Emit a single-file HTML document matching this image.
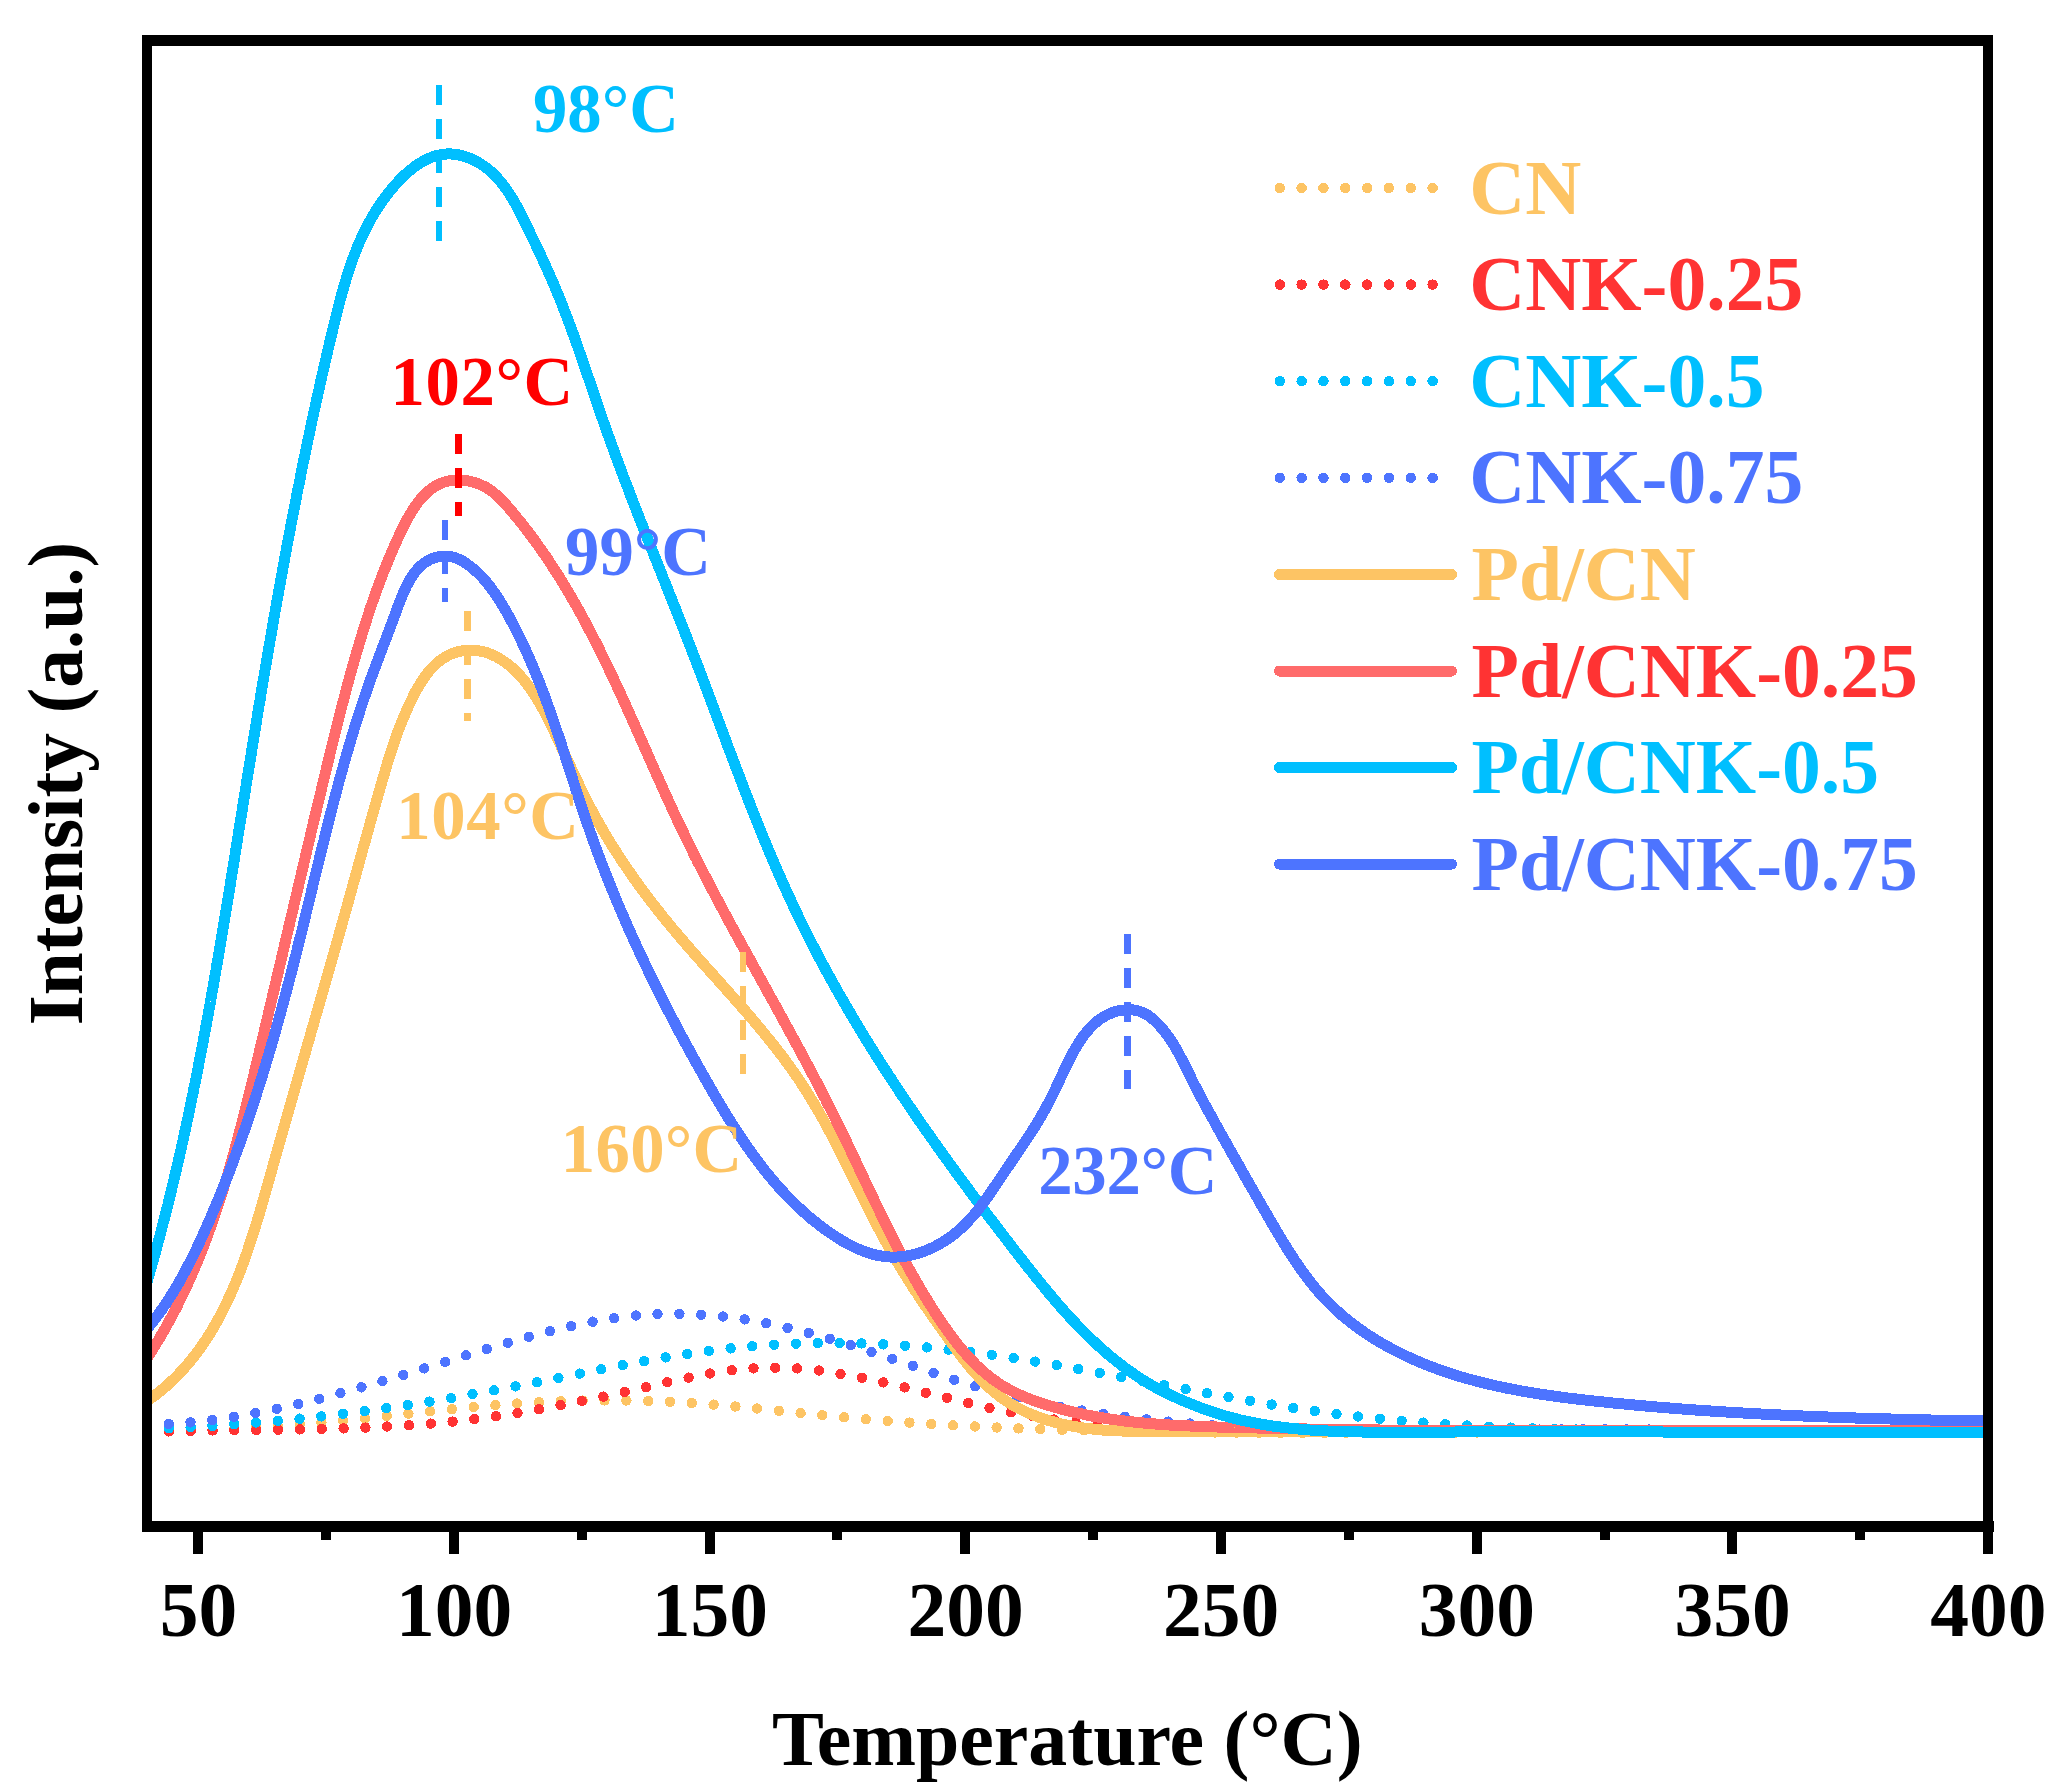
<!DOCTYPE html>
<html><head><meta charset="utf-8"><title>TPD</title>
<style>html,body{margin:0;padding:0;background:#fff}svg{display:block}</style></head>
<body>
<svg width="2063" height="1792" viewBox="0 0 2063 1792" font-family="Liberation Serif, Times New Roman, serif" font-weight="bold">
<rect width="2063" height="1792" fill="#fff"/>
<defs><clipPath id="cp"><rect x="152" y="46" width="1831" height="1475"/></clipPath></defs>
<g clip-path="url(#cp)" fill="none" shape-rendering="crispEdges">
<path d="M147.0 1430.9L149.5 1430.9L152.0 1430.9L154.5 1431.0L157.0 1431.0L159.5 1431.0L162.0 1431.0L164.6 1431.0L167.1 1431.0L169.6 1430.9L172.1 1430.9L174.6 1430.9L177.1 1430.9L179.6 1430.8L182.1 1430.8L184.6 1430.7L187.1 1430.7L189.6 1430.6L192.1 1430.6L194.6 1430.5L197.1 1430.5L199.6 1430.4L202.1 1430.3L204.6 1430.2L207.1 1430.1L209.6 1430.0L212.1 1430.0L214.6 1429.9L217.1 1429.8L219.6 1429.6L222.1 1429.5L224.6 1429.4L227.1 1429.3L229.6 1429.2L232.1 1429.1L234.6 1428.9L237.1 1428.8L239.6 1428.7L242.1 1428.5L244.6 1428.4L247.1 1428.2L249.6 1428.1L252.1 1427.9L254.6 1427.8L257.1 1427.6L259.6 1427.4L262.1 1427.3L264.6 1427.1L267.1 1426.9L269.6 1426.7L272.1 1426.6L274.6 1426.4L277.1 1426.2L279.6 1426.0L282.1 1425.8L284.6 1425.6L287.1 1425.4L289.6 1425.2L292.1 1425.0L294.6 1424.8L297.1 1424.6L299.6 1424.4L302.1 1424.2L304.6 1424.0L307.1 1423.8L309.6 1423.5L312.1 1423.3L314.6 1423.1L317.0 1422.9L319.5 1422.6L322.0 1422.4L324.5 1422.2L327.0 1421.9L329.5 1421.7L332.0 1421.5L334.5 1421.2L337.0 1421.0L339.5 1420.7L342.0 1420.5L344.5 1420.3L347.0 1420.0L349.5 1419.8L352.0 1419.5L354.5 1419.3L357.0 1419.0L359.5 1418.8L362.0 1418.5L364.5 1418.3L366.9 1418.0L369.4 1417.7L371.9 1417.5L374.4 1417.2L376.9 1417.0L379.4 1416.7L381.9 1416.4L384.4 1416.2L386.9 1415.9L389.4 1415.7L391.9 1415.4L394.4 1415.1L396.9 1414.9L399.4 1414.6L401.9 1414.3L404.4 1414.1L406.9 1413.8L409.4 1413.5L411.9 1413.3L414.3 1413.0L416.8 1412.8L419.3 1412.5L421.8 1412.2L424.3 1412.0L426.8 1411.7L429.3 1411.4L431.8 1411.2L434.3 1410.9L436.8 1410.7L439.3 1410.4L441.8 1410.2L444.3 1409.9L446.8 1409.7L449.3 1409.4L451.8 1409.2L454.3 1408.9L456.8 1408.7L459.3 1408.4L461.8 1408.2L464.3 1408.0L466.8 1407.7L469.2 1407.5L471.7 1407.3L474.2 1407.0L476.7 1406.8L479.2 1406.6L481.7 1406.3L484.2 1406.1L486.7 1405.9L489.2 1405.7L491.7 1405.5L494.2 1405.3L496.7 1405.1L499.2 1404.9L501.7 1404.7L504.2 1404.5L506.7 1404.3L509.2 1404.1L511.7 1403.9L514.2 1403.8L516.7 1403.6L519.2 1403.4L521.7 1403.2L524.2 1403.1L526.7 1402.9L529.2 1402.8L531.7 1402.6L534.2 1402.5L536.7 1402.3L539.2 1402.2L541.7 1402.1L544.2 1402.0L546.7 1401.8L549.2 1401.7L551.7 1401.6L554.2 1401.5L556.7 1401.4L559.2 1401.3L561.7 1401.2L564.2 1401.1L566.7 1401.0L569.2 1401.0L571.7 1400.9L574.2 1400.8L576.7 1400.8L579.2 1400.7L581.7 1400.6L584.2 1400.6L586.7 1400.5L589.1 1400.5L591.6 1400.5L594.1 1400.4L596.6 1400.4L599.1 1400.4L601.6 1400.4L604.1 1400.4L606.6 1400.4L609.1 1400.4L611.6 1400.4L614.1 1400.4L616.6 1400.4L619.1 1400.4L621.6 1400.4L624.1 1400.5L626.6 1400.5L629.1 1400.5L631.6 1400.6L634.1 1400.6L636.6 1400.7L639.1 1400.7L641.6 1400.8L644.1 1400.9L646.6 1400.9L649.1 1401.0L651.6 1401.1L654.1 1401.2L656.6 1401.3L659.1 1401.4L661.6 1401.5L664.1 1401.6L666.6 1401.7L669.1 1401.8L671.6 1401.9L674.1 1402.0L676.6 1402.2L679.1 1402.3L681.6 1402.4L684.1 1402.6L686.6 1402.7L689.1 1402.9L691.6 1403.0L694.1 1403.2L696.6 1403.4L699.1 1403.6L701.6 1403.7L704.1 1403.9L706.6 1404.1L709.1 1404.3L711.6 1404.5L714.1 1404.7L716.6 1404.9L719.1 1405.1L721.5 1405.3L724.0 1405.5L726.5 1405.7L729.0 1405.9L731.5 1406.2L734.0 1406.4L736.5 1406.6L739.0 1406.9L741.5 1407.1L744.0 1407.3L746.5 1407.6L749.0 1407.8L751.5 1408.0L754.0 1408.3L756.5 1408.5L759.0 1408.8L761.5 1409.0L764.0 1409.3L766.5 1409.5L769.0 1409.8L771.5 1410.0L773.9 1410.3L776.4 1410.5L778.9 1410.8L781.4 1411.1L783.9 1411.3L786.4 1411.6L788.9 1411.8L791.4 1412.1L793.9 1412.3L796.4 1412.6L798.9 1412.9L801.4 1413.1L803.9 1413.4L806.4 1413.6L808.9 1413.9L811.4 1414.1L813.9 1414.4L816.4 1414.6L818.9 1414.9L821.3 1415.1L823.8 1415.4L826.3 1415.6L828.8 1415.9L831.3 1416.1L833.8 1416.4L836.3 1416.6L838.8 1416.8L841.3 1417.1L843.8 1417.3L846.3 1417.5L848.8 1417.8L851.3 1418.0L853.8 1418.2L856.3 1418.4L858.8 1418.7L861.3 1418.9L863.8 1419.1L866.3 1419.3L868.8 1419.5L871.3 1419.7L873.8 1419.9L876.3 1420.1L878.8 1420.3L881.3 1420.5L883.8 1420.7L886.3 1420.9L888.7 1421.1L891.2 1421.3L893.7 1421.5L896.2 1421.7L898.7 1421.8L901.2 1422.0L903.7 1422.2L906.2 1422.4L908.7 1422.5L911.2 1422.7L913.7 1422.9L916.2 1423.1L918.7 1423.2L921.2 1423.4L923.7 1423.6L926.2 1423.7L928.7 1423.9L931.2 1424.0L933.7 1424.2L936.2 1424.3L938.7 1424.5L941.2 1424.6L943.7 1424.8L946.2 1424.9L948.7 1425.1L951.2 1425.2L953.7 1425.4L956.2 1425.5L958.7 1425.6L961.2 1425.8L963.7 1425.9L966.2 1426.0L968.7 1426.2L971.2 1426.3L973.7 1426.4L976.2 1426.5L978.7 1426.7L981.2 1426.8L983.7 1426.9L986.2 1427.0L988.7 1427.1L991.2 1427.2L993.7 1427.4L996.2 1427.5L998.7 1427.6L1001.2 1427.7L1003.7 1427.8L1006.2 1427.9L1008.7 1428.0L1011.2 1428.1L1013.7 1428.2L1016.2 1428.3L1018.7 1428.4L1021.2 1428.5L1023.7 1428.6L1026.2 1428.7L1028.7 1428.8L1031.2 1428.9L1033.7 1429.0L1036.2 1429.0L1038.7 1429.1L1041.2 1429.2L1043.7 1429.3L1046.2 1429.4L1048.7 1429.5L1051.2 1429.5L1053.7 1429.6L1056.2 1429.7L1058.7 1429.8L1061.2 1429.8L1063.7 1429.9L1066.2 1430.0L1068.7 1430.1L1071.3 1430.1L1073.8 1430.2L1076.3 1430.3L1078.8 1430.3L1081.3 1430.4L1083.8 1430.4L1086.3 1430.5L1088.8 1430.6L1091.3 1430.6L1093.8 1430.7L1096.3 1430.7L1098.8 1430.8L1101.3 1430.9L1103.8 1430.9L1106.3 1431.0L1108.8 1431.0L1111.3 1431.1L1113.8 1431.1L1116.3 1431.2L1118.8 1431.2L1121.3 1431.3L1123.8 1431.3L1126.3 1431.4L1128.8 1431.4L1131.3 1431.4L1133.8 1431.5L1136.3 1431.5L1138.8 1431.6L1141.3 1431.6L1143.8 1431.7L1146.3 1431.7L1148.8 1431.7L1151.3 1431.8L1153.8 1431.8L1156.3 1431.8L1158.9 1431.9L1161.4 1431.9L1163.9 1431.9L1166.4 1432.0L1168.9 1432.0L1171.4 1432.0L1173.9 1432.1L1176.4 1432.1L1178.9 1432.1L1181.4 1432.2L1183.9 1432.2L1186.4 1432.2L1188.9 1432.2L1191.4 1432.3L1193.9 1432.3L1196.4 1432.3L1198.9 1432.3L1201.4 1432.4L1203.9 1432.4L1206.4 1432.4L1208.9 1432.4L1211.4 1432.5L1213.9 1432.5L1216.4 1432.5L1218.9 1432.5L1221.5 1432.5L1224.0 1432.6L1226.5 1432.6L1229.0 1432.6L1231.5 1432.6L1234.0 1432.6L1236.5 1432.6L1239.0 1432.7L1241.5 1432.7L1244.0 1432.7L1246.5 1432.7L1249.0 1432.7L1251.5 1432.7L1254.0 1432.7L1256.5 1432.8L1259.0 1432.8L1261.5 1432.8L1264.0 1432.8L1266.5 1432.8L1269.0 1432.8L1271.5 1432.8L1274.0 1432.8L1276.5 1432.8L1279.1 1432.8L1281.6 1432.9L1284.1 1432.9L1286.6 1432.9L1289.1 1432.9L1291.6 1432.9L1294.1 1432.9L1296.6 1432.9L1299.1 1432.9L1301.6 1432.9L1304.1 1432.9L1306.6 1432.9L1309.1 1432.9L1311.6 1432.9L1314.1 1432.9L1316.6 1432.9L1319.1 1432.9L1321.6 1432.9L1324.1 1432.9L1326.6 1432.9L1329.1 1432.9L1331.7 1432.9L1334.2 1432.9L1336.7 1432.9L1339.2 1432.9L1341.7 1432.9L1344.2 1432.9L1346.7 1432.9L1349.2 1432.9L1351.7 1432.9L1354.2 1432.9L1356.7 1432.9L1359.2 1432.9L1361.7 1432.9L1364.2 1432.9L1366.7 1432.9L1369.2 1432.9L1371.7 1432.9L1374.2 1432.9L1376.7 1432.9L1379.3 1432.9L1381.8 1432.9L1384.3 1432.9L1386.8 1432.9L1389.3 1432.9L1391.8 1432.8L1394.3 1432.8L1396.8 1432.8L1399.3 1432.8L1401.8 1432.8L1404.3 1432.8L1406.8 1432.8L1409.3 1432.8L1411.8 1432.8L1414.3 1432.8L1416.8 1432.8L1419.3 1432.7L1421.8 1432.7L1424.3 1432.7L1426.9 1432.7L1429.4 1432.7L1431.9 1432.7L1434.4 1432.7L1436.9 1432.7L1439.4 1432.7L1441.9 1432.7L1444.4 1432.6L1446.9 1432.6L1449.4 1432.6L1451.9 1432.6L1454.4 1432.6L1456.9 1432.6L1459.4 1432.6L1461.9 1432.6L1464.4 1432.5L1466.9 1432.5L1469.4 1432.5L1472.0 1432.5L1474.5 1432.5L1477.0 1432.5L1479.5 1432.5L1482.0 1432.4L1484.5 1432.4L1487.0 1432.4L1489.5 1432.4L1492.0 1432.4L1494.5 1432.4L1497.0 1432.4L1499.5 1432.3L1502.0 1432.3L1504.5 1432.3L1507.0 1432.3L1509.5 1432.3L1512.0 1432.3L1514.5 1432.2L1517.1 1432.2L1519.6 1432.2L1522.1 1432.2L1524.6 1432.2L1527.1 1432.2L1529.6 1432.1L1532.1 1432.1L1534.6 1432.1L1537.1 1432.1L1539.6 1432.1L1542.1 1432.1L1544.6 1432.0L1547.1 1432.0L1549.6 1432.0L1552.1 1432.0L1554.6 1432.0L1557.1 1432.0L1559.7 1431.9L1562.2 1431.9L1564.7 1431.9L1567.2 1431.9L1569.7 1431.9L1572.2 1431.9L1574.7 1431.8L1577.2 1431.8L1579.7 1431.8L1582.2 1431.8L1584.7 1431.8L1587.2 1431.8L1589.7 1431.7L1592.2 1431.7L1594.7 1431.7L1597.2 1431.7L1599.7 1431.7L1602.2 1431.7L1604.8 1431.6L1607.3 1431.6L1609.8 1431.6L1612.3 1431.6L1614.8 1431.6L1617.3 1431.6L1619.8 1431.5L1622.3 1431.5L1624.8 1431.5L1627.3 1431.5L1629.8 1431.5L1632.3 1431.5L1634.8 1431.5L1637.3 1431.4L1639.8 1431.4L1642.3 1431.4L1644.8 1431.4L1647.4 1431.4L1649.9 1431.4L1652.4 1431.3L1654.9 1431.3L1657.4 1431.3L1659.9 1431.3L1662.4 1431.3L1664.9 1431.3L1667.4 1431.3L1669.9 1431.2L1672.4 1431.2L1674.9 1431.2L1677.4 1431.2L1679.9 1431.2L1682.4 1431.2L1684.9 1431.2L1687.4 1431.1L1689.9 1431.1L1692.5 1431.1L1695.0 1431.1L1697.5 1431.1L1700.0 1431.1L1702.5 1431.1L1705.0 1431.1L1707.5 1431.0L1710.0 1431.0L1712.5 1431.0L1715.0 1431.0L1717.5 1431.0L1720.0 1431.0L1722.5 1431.0L1725.0 1431.0L1727.5 1431.0L1730.0 1431.0L1732.5 1430.9L1735.0 1430.9L1737.5 1430.9L1740.1 1430.9L1742.6 1430.9L1745.1 1430.9L1747.6 1430.9L1750.1 1430.9L1752.6 1430.9L1755.1 1430.9L1757.6 1430.9L1760.1 1430.9L1762.6 1430.8L1765.1 1430.8L1767.6 1430.8L1770.1 1430.8L1772.6 1430.8L1775.1 1430.8L1777.6 1430.8L1780.1 1430.8L1782.6 1430.8L1785.1 1430.8L1787.7 1430.8L1790.2 1430.8L1792.7 1430.8L1795.2 1430.8L1797.7 1430.8L1800.2 1430.8L1802.7 1430.8L1805.2 1430.8L1807.7 1430.8L1810.2 1430.8L1812.7 1430.8L1815.2 1430.8L1817.7 1430.8L1820.2 1430.8L1822.7 1430.8L1825.2 1430.8L1827.7 1430.8L1830.2 1430.8L1832.7 1430.8L1835.2 1430.8L1837.7 1430.8L1840.3 1430.8L1842.8 1430.8L1845.3 1430.8L1847.8 1430.8L1850.3 1430.8L1852.8 1430.8L1855.3 1430.8L1857.8 1430.8L1860.3 1430.8L1862.8 1430.8L1865.3 1430.8L1867.8 1430.9L1870.3 1430.9L1872.8 1430.9L1875.3 1430.9L1877.8 1430.9L1880.3 1430.9L1882.8 1430.9L1885.3 1430.9L1887.8 1430.9L1890.3 1430.9L1892.8 1431.0L1895.4 1431.0L1897.9 1431.0L1900.4 1431.0L1902.9 1431.0L1905.4 1431.0L1907.9 1431.0L1910.4 1431.1L1912.9 1431.1L1915.4 1431.1L1917.9 1431.1L1920.4 1431.1L1922.9 1431.1L1925.4 1431.2L1927.9 1431.2L1930.4 1431.2L1932.9 1431.2L1935.4 1431.2L1937.9 1431.3L1940.4 1431.3L1942.9 1431.3L1945.4 1431.3L1947.9 1431.4L1950.4 1431.4L1952.9 1431.4L1955.4 1431.4L1958.0 1431.5L1960.5 1431.5L1963.0 1431.5L1965.5 1431.5L1968.0 1431.6L1970.5 1431.6L1973.0 1431.6L1975.5 1431.7L1978.0 1431.7L1980.5 1431.7L1983.0 1431.7L1985.5 1431.8L1988.0 1431.8" stroke="#FDC464" stroke-width="10.4" stroke-linecap="round" stroke-dasharray="0 21.85"/>
<path d="M147.0 1432.1L149.5 1432.0L152.0 1431.9L154.5 1431.8L157.0 1431.8L159.5 1431.7L162.0 1431.6L164.5 1431.5L167.0 1431.5L169.5 1431.4L171.9 1431.3L174.4 1431.3L176.9 1431.2L179.4 1431.2L181.9 1431.1L184.4 1431.0L186.9 1431.0L189.4 1430.9L191.9 1430.9L194.4 1430.8L196.9 1430.8L199.4 1430.8L201.9 1430.7L204.4 1430.7L206.9 1430.6L209.4 1430.6L211.9 1430.5L214.4 1430.5L216.9 1430.5L219.4 1430.4L222.0 1430.4L224.5 1430.4L227.0 1430.3L229.5 1430.3L232.0 1430.3L234.5 1430.2L237.0 1430.2L239.5 1430.2L242.0 1430.1L244.5 1430.1L247.0 1430.1L249.5 1430.1L252.0 1430.0L254.5 1430.0L257.0 1430.0L259.5 1429.9L262.0 1429.9L264.6 1429.9L267.1 1429.8L269.6 1429.8L272.1 1429.8L274.6 1429.7L277.1 1429.7L279.6 1429.7L282.1 1429.6L284.6 1429.6L287.1 1429.6L289.6 1429.5L292.1 1429.5L294.6 1429.5L297.2 1429.4L299.7 1429.4L302.2 1429.3L304.7 1429.3L307.2 1429.2L309.7 1429.2L312.2 1429.1L314.7 1429.1L317.2 1429.0L319.7 1429.0L322.2 1428.9L324.7 1428.9L327.2 1428.8L329.7 1428.7L332.3 1428.7L334.8 1428.6L337.3 1428.5L339.8 1428.5L342.3 1428.4L344.8 1428.3L347.3 1428.2L349.8 1428.1L352.3 1428.1L354.8 1428.0L357.3 1427.9L359.8 1427.8L362.3 1427.7L364.8 1427.6L367.3 1427.5L369.8 1427.4L372.3 1427.3L374.8 1427.1L377.3 1427.0L379.8 1426.9L382.3 1426.8L384.8 1426.7L387.3 1426.5L389.8 1426.4L392.3 1426.3L394.8 1426.1L397.3 1426.0L399.8 1425.8L402.3 1425.7L404.8 1425.5L407.3 1425.3L409.8 1425.2L412.3 1425.0L414.8 1424.8L417.3 1424.7L419.8 1424.5L422.3 1424.3L424.8 1424.1L427.3 1423.9L429.8 1423.7L432.3 1423.5L434.7 1423.3L437.2 1423.0L439.7 1422.8L442.2 1422.6L444.7 1422.4L447.2 1422.1L449.7 1421.9L452.2 1421.6L454.7 1421.4L457.1 1421.1L459.6 1420.8L462.1 1420.6L464.6 1420.3L467.1 1420.0L469.5 1419.7L472.0 1419.4L474.5 1419.1L477.0 1418.8L479.5 1418.5L481.9 1418.2L484.4 1417.8L486.9 1417.5L489.4 1417.2L491.8 1416.8L494.3 1416.5L496.8 1416.1L499.3 1415.8L501.7 1415.4L504.2 1415.0L506.7 1414.7L509.1 1414.3L511.6 1413.9L514.1 1413.5L516.5 1413.1L519.0 1412.7L521.5 1412.3L523.9 1411.9L526.4 1411.5L528.9 1411.1L531.3 1410.6L533.8 1410.2L536.3 1409.8L538.7 1409.3L541.2 1408.9L543.7 1408.4L546.1 1408.0L548.6 1407.5L551.0 1407.1L553.5 1406.6L556.0 1406.2L558.4 1405.7L560.9 1405.2L563.3 1404.7L565.8 1404.3L568.3 1403.8L570.7 1403.3L573.2 1402.8L575.6 1402.3L578.1 1401.8L580.5 1401.3L583.0 1400.8L585.4 1400.3L587.9 1399.8L590.4 1399.3L592.8 1398.8L595.3 1398.2L597.7 1397.7L600.2 1397.2L602.6 1396.7L605.1 1396.2L607.5 1395.6L610.0 1395.1L612.4 1394.6L614.9 1394.0L617.3 1393.5L619.8 1392.9L622.3 1392.4L624.7 1391.9L627.2 1391.3L629.6 1390.8L632.1 1390.2L634.5 1389.7L637.0 1389.1L639.4 1388.6L641.9 1388.0L644.3 1387.4L646.8 1386.9L649.2 1386.3L651.7 1385.8L654.1 1385.2L656.6 1384.6L659.0 1384.1L661.5 1383.5L663.9 1383.0L666.4 1382.4L668.8 1381.9L671.3 1381.3L673.7 1380.8L676.2 1380.2L678.7 1379.7L681.1 1379.2L683.6 1378.7L686.0 1378.1L688.5 1377.6L690.9 1377.1L693.4 1376.6L695.8 1376.1L698.3 1375.7L700.7 1375.2L703.2 1374.7L705.7 1374.3L708.1 1373.9L710.6 1373.4L713.0 1373.0L715.5 1372.6L718.0 1372.2L720.4 1371.9L722.9 1371.5L725.3 1371.2L727.8 1370.8L730.3 1370.5L732.7 1370.2L735.2 1369.9L737.7 1369.7L740.1 1369.4L742.6 1369.2L745.1 1369.0L747.5 1368.8L750.0 1368.6L752.5 1368.4L755.0 1368.3L757.4 1368.1L759.9 1368.0L762.4 1367.9L764.8 1367.9L767.3 1367.8L769.8 1367.7L772.3 1367.7L774.7 1367.7L777.2 1367.7L779.7 1367.7L782.1 1367.8L784.6 1367.8L787.1 1367.9L789.6 1368.0L792.0 1368.1L794.5 1368.3L797.0 1368.4L799.4 1368.6L801.9 1368.8L804.4 1369.0L806.9 1369.2L809.3 1369.4L811.8 1369.7L814.3 1369.9L816.7 1370.2L819.2 1370.5L821.7 1370.8L824.1 1371.2L826.6 1371.5L829.1 1371.9L831.5 1372.2L834.0 1372.6L836.5 1373.0L838.9 1373.4L841.4 1373.9L843.9 1374.3L846.3 1374.7L848.8 1375.2L851.3 1375.6L853.7 1376.1L856.2 1376.6L858.7 1377.1L861.1 1377.6L863.6 1378.1L866.0 1378.6L868.5 1379.1L870.9 1379.7L873.4 1380.2L875.9 1380.7L878.3 1381.3L880.8 1381.8L883.2 1382.4L885.7 1383.0L888.1 1383.5L890.6 1384.1L893.0 1384.7L895.5 1385.3L897.9 1385.9L900.4 1386.4L902.8 1387.0L905.3 1387.6L907.7 1388.2L910.2 1388.8L912.6 1389.4L915.1 1390.0L917.5 1390.6L920.0 1391.2L922.4 1391.9L924.8 1392.5L927.3 1393.1L929.7 1393.7L932.2 1394.3L934.6 1394.9L937.1 1395.5L939.5 1396.1L942.0 1396.7L944.4 1397.3L946.8 1397.9L949.3 1398.5L951.7 1399.1L954.2 1399.7L956.6 1400.3L959.1 1400.9L961.5 1401.5L964.0 1402.0L966.4 1402.6L968.9 1403.2L971.3 1403.7L973.8 1404.3L976.2 1404.9L978.7 1405.4L981.1 1406.0L983.6 1406.5L986.0 1407.1L988.5 1407.6L990.9 1408.1L993.4 1408.6L995.8 1409.2L998.3 1409.7L1000.7 1410.2L1003.2 1410.7L1005.6 1411.2L1008.1 1411.7L1010.5 1412.1L1013.0 1412.6L1015.5 1413.1L1017.9 1413.6L1020.4 1414.0L1022.8 1414.5L1025.3 1414.9L1027.8 1415.4L1030.2 1415.8L1032.7 1416.2L1035.1 1416.6L1037.6 1417.0L1040.1 1417.5L1042.5 1417.9L1045.0 1418.2L1047.5 1418.6L1049.9 1419.0L1052.4 1419.4L1054.9 1419.7L1057.4 1420.1L1059.8 1420.4L1062.3 1420.8L1064.8 1421.1L1067.2 1421.4L1069.7 1421.8L1072.2 1422.1L1074.7 1422.4L1077.2 1422.7L1079.6 1422.9L1082.1 1423.2L1084.6 1423.5L1087.1 1423.7L1089.6 1424.0L1092.0 1424.2L1094.5 1424.5L1097.0 1424.7L1099.5 1424.9L1102.0 1425.1L1104.5 1425.3L1107.0 1425.5L1109.5 1425.7L1111.9 1425.9L1114.4 1426.1L1116.9 1426.3L1119.4 1426.4L1121.9 1426.6L1124.4 1426.8L1126.9 1426.9L1129.4 1427.1L1131.9 1427.2L1134.4 1427.3L1136.9 1427.5L1139.4 1427.6L1141.9 1427.7L1144.4 1427.8L1146.9 1427.9L1149.4 1428.1L1151.9 1428.2L1154.4 1428.3L1156.9 1428.4L1159.4 1428.4L1161.9 1428.5L1164.4 1428.6L1166.9 1428.7L1169.4 1428.8L1171.9 1428.9L1174.4 1428.9L1176.9 1429.0L1179.4 1429.1L1181.9 1429.1L1184.4 1429.2L1186.9 1429.3L1189.4 1429.3L1191.9 1429.4L1194.4 1429.5L1196.9 1429.5L1199.4 1429.6L1201.9 1429.6L1204.4 1429.7L1206.9 1429.7L1209.4 1429.8L1211.9 1429.9L1214.4 1429.9L1216.9 1430.0L1219.4 1430.0L1221.9 1430.1L1224.4 1430.1L1227.0 1430.2L1229.5 1430.2L1232.0 1430.3L1234.5 1430.3L1237.0 1430.4L1239.5 1430.4L1242.0 1430.5L1244.5 1430.5L1247.0 1430.5L1249.5 1430.6L1252.0 1430.6L1254.5 1430.7L1257.0 1430.7L1259.5 1430.8L1262.0 1430.8L1264.5 1430.8L1267.0 1430.9L1269.5 1430.9L1272.0 1430.9L1274.5 1431.0L1277.0 1431.0L1279.5 1431.1L1282.0 1431.1L1284.5 1431.1L1287.0 1431.2L1289.5 1431.2L1292.0 1431.2L1294.5 1431.3L1297.0 1431.3L1299.6 1431.3L1302.1 1431.3L1304.6 1431.4L1307.1 1431.4L1309.6 1431.4L1312.1 1431.5L1314.6 1431.5L1317.1 1431.5L1319.6 1431.5L1322.1 1431.6L1324.6 1431.6L1327.1 1431.6L1329.6 1431.6L1332.1 1431.7L1334.6 1431.7L1337.1 1431.7L1339.6 1431.7L1342.1 1431.7L1344.6 1431.8L1347.1 1431.8L1349.6 1431.8L1352.1 1431.8L1354.6 1431.8L1357.1 1431.9L1359.6 1431.9L1362.1 1431.9L1364.6 1431.9L1367.1 1431.9L1369.6 1431.9L1372.2 1431.9L1374.7 1432.0L1377.2 1432.0L1379.7 1432.0L1382.2 1432.0L1384.7 1432.0L1387.2 1432.0L1389.7 1432.0L1392.2 1432.0L1394.7 1432.1L1397.2 1432.1L1399.7 1432.1L1402.2 1432.1L1404.7 1432.1L1407.2 1432.1L1409.7 1432.1L1412.2 1432.1L1414.7 1432.1L1417.2 1432.1L1419.7 1432.1L1422.2 1432.1L1424.7 1432.1L1427.2 1432.2L1429.7 1432.2L1432.2 1432.2L1434.7 1432.2L1437.2 1432.2L1439.7 1432.2L1442.3 1432.2L1444.8 1432.2L1447.3 1432.2L1449.8 1432.2L1452.3 1432.2L1454.8 1432.2L1457.3 1432.2L1459.8 1432.2L1462.3 1432.2L1464.8 1432.2L1467.3 1432.2L1469.8 1432.2L1472.3 1432.2L1474.8 1432.2L1477.3 1432.2L1479.8 1432.2L1482.3 1432.2L1484.8 1432.2L1487.3 1432.2L1489.8 1432.2L1492.3 1432.2L1494.8 1432.2L1497.3 1432.2L1499.8 1432.1L1502.3 1432.1L1504.8 1432.1L1507.3 1432.1L1509.8 1432.1L1512.3 1432.1L1514.9 1432.1L1517.4 1432.1L1519.9 1432.1L1522.4 1432.1L1524.9 1432.1L1527.4 1432.1L1529.9 1432.1L1532.4 1432.1L1534.9 1432.1L1537.4 1432.1L1539.9 1432.0L1542.4 1432.0L1544.9 1432.0L1547.4 1432.0L1549.9 1432.0L1552.4 1432.0L1554.9 1432.0L1557.4 1432.0L1559.9 1432.0L1562.4 1432.0L1564.9 1432.0L1567.4 1431.9L1569.9 1431.9L1572.4 1431.9L1574.9 1431.9L1577.4 1431.9L1579.9 1431.9L1582.4 1431.9L1585.0 1431.9L1587.5 1431.9L1590.0 1431.8L1592.5 1431.8L1595.0 1431.8L1597.5 1431.8L1600.0 1431.8L1602.5 1431.8L1605.0 1431.8L1607.5 1431.8L1610.0 1431.8L1612.5 1431.7L1615.0 1431.7L1617.5 1431.7L1620.0 1431.7L1622.5 1431.7L1625.0 1431.7L1627.5 1431.7L1630.0 1431.7L1632.5 1431.6L1635.0 1431.6L1637.5 1431.6L1640.0 1431.6L1642.5 1431.6L1645.0 1431.6L1647.5 1431.6L1650.0 1431.6L1652.5 1431.5L1655.0 1431.5L1657.6 1431.5L1660.1 1431.5L1662.6 1431.5L1665.1 1431.5L1667.6 1431.5L1670.1 1431.5L1672.6 1431.4L1675.1 1431.4L1677.6 1431.4L1680.1 1431.4L1682.6 1431.4L1685.1 1431.4L1687.6 1431.4L1690.1 1431.4L1692.6 1431.3L1695.1 1431.3L1697.6 1431.3L1700.1 1431.3L1702.6 1431.3L1705.1 1431.3L1707.6 1431.3L1710.1 1431.3L1712.6 1431.2L1715.1 1431.2L1717.6 1431.2L1720.1 1431.2L1722.6 1431.2L1725.1 1431.2L1727.6 1431.2L1730.2 1431.2L1732.7 1431.2L1735.2 1431.1L1737.7 1431.1L1740.2 1431.1L1742.7 1431.1L1745.2 1431.1L1747.7 1431.1L1750.2 1431.1L1752.7 1431.1L1755.2 1431.1L1757.7 1431.1L1760.2 1431.1L1762.7 1431.0L1765.2 1431.0L1767.7 1431.0L1770.2 1431.0L1772.7 1431.0L1775.2 1431.0L1777.7 1431.0L1780.2 1431.0L1782.7 1431.0L1785.2 1431.0L1787.7 1431.0L1790.2 1431.0L1792.7 1431.0L1795.2 1431.0L1797.7 1430.9L1800.2 1430.9L1802.8 1430.9L1805.3 1430.9L1807.8 1430.9L1810.3 1430.9L1812.8 1430.9L1815.3 1430.9L1817.8 1430.9L1820.3 1430.9L1822.8 1430.9L1825.3 1430.9L1827.8 1430.9L1830.3 1430.9L1832.8 1430.9L1835.3 1430.9L1837.8 1430.9L1840.3 1430.9L1842.8 1430.9L1845.3 1430.9L1847.8 1430.9L1850.3 1430.9L1852.8 1430.9L1855.3 1430.9L1857.8 1430.9L1860.3 1430.9L1862.8 1430.9L1865.3 1430.9L1867.8 1430.9L1870.3 1430.9L1872.8 1430.9L1875.3 1430.9L1877.9 1430.9L1880.4 1430.9L1882.9 1430.9L1885.4 1430.9L1887.9 1430.9L1890.4 1430.9L1892.9 1431.0L1895.4 1431.0L1897.9 1431.0L1900.4 1431.0L1902.9 1431.0L1905.4 1431.0L1907.9 1431.0L1910.4 1431.0L1912.9 1431.0L1915.4 1431.0L1917.9 1431.0L1920.4 1431.1L1922.9 1431.1L1925.4 1431.1L1927.9 1431.1L1930.4 1431.1L1932.9 1431.1L1935.4 1431.1L1937.9 1431.2L1940.4 1431.2L1942.9 1431.2L1945.4 1431.2L1947.9 1431.2L1950.4 1431.2L1953.0 1431.3L1955.5 1431.3L1958.0 1431.3L1960.5 1431.3L1963.0 1431.3L1965.5 1431.4L1968.0 1431.4L1970.5 1431.4L1973.0 1431.4L1975.5 1431.4L1978.0 1431.5L1980.5 1431.5L1983.0 1431.5L1985.5 1431.5L1988.0 1431.6" stroke="#FF3333" stroke-width="10.4" stroke-linecap="round" stroke-dasharray="0 21.85"/>
<path d="M147.0 1429.4L149.5 1429.3L152.0 1429.2L154.5 1429.1L157.0 1429.0L159.5 1428.8L162.0 1428.7L164.5 1428.6L167.0 1428.4L169.5 1428.3L172.0 1428.2L174.5 1428.0L177.0 1427.9L179.5 1427.8L182.1 1427.6L184.6 1427.5L187.1 1427.3L189.6 1427.2L192.1 1427.0L194.6 1426.9L197.1 1426.7L199.6 1426.6L202.1 1426.4L204.6 1426.3L207.1 1426.1L209.6 1426.0L212.1 1425.8L214.6 1425.6L217.1 1425.5L219.6 1425.3L222.1 1425.1L224.6 1425.0L227.1 1424.8L229.6 1424.6L232.1 1424.4L234.6 1424.2L237.1 1424.1L239.6 1423.9L242.1 1423.7L244.6 1423.5L247.1 1423.3L249.6 1423.1L252.1 1422.9L254.6 1422.7L257.1 1422.5L259.6 1422.3L262.1 1422.1L264.6 1421.9L267.1 1421.7L269.6 1421.5L272.1 1421.2L274.6 1421.0L277.1 1420.8L279.5 1420.6L282.0 1420.3L284.5 1420.1L287.0 1419.9L289.5 1419.6L292.0 1419.4L294.5 1419.2L297.0 1418.9L299.5 1418.7L302.0 1418.4L304.5 1418.2L307.0 1417.9L309.5 1417.7L311.9 1417.4L314.4 1417.1L316.9 1416.9L319.4 1416.6L321.9 1416.3L324.4 1416.1L326.9 1415.8L329.4 1415.5L331.8 1415.2L334.3 1414.9L336.8 1414.6L339.3 1414.3L341.8 1414.0L344.3 1413.7L346.8 1413.4L349.2 1413.1L351.7 1412.8L354.2 1412.5L356.7 1412.2L359.2 1411.9L361.6 1411.5L364.1 1411.2L366.6 1410.9L369.1 1410.6L371.6 1410.2L374.0 1409.9L376.5 1409.5L379.0 1409.2L381.5 1408.9L383.9 1408.5L386.4 1408.1L388.9 1407.8L391.4 1407.4L393.9 1407.1L396.3 1406.7L398.8 1406.3L401.3 1406.0L403.7 1405.6L406.2 1405.2L408.7 1404.9L411.2 1404.5L413.6 1404.1L416.1 1403.7L418.6 1403.3L421.1 1402.9L423.5 1402.5L426.0 1402.1L428.5 1401.8L430.9 1401.4L433.4 1400.9L435.9 1400.5L438.3 1400.1L440.8 1399.7L443.3 1399.3L445.8 1398.9L448.2 1398.5L450.7 1398.1L453.2 1397.6L455.6 1397.2L458.1 1396.8L460.6 1396.4L463.0 1395.9L465.5 1395.5L468.0 1395.1L470.4 1394.6L472.9 1394.2L475.4 1393.8L477.8 1393.3L480.3 1392.9L482.8 1392.4L485.2 1392.0L487.7 1391.5L490.1 1391.1L492.6 1390.6L495.1 1390.2L497.5 1389.7L500.0 1389.3L502.5 1388.8L504.9 1388.3L507.4 1387.9L509.9 1387.4L512.3 1386.9L514.8 1386.5L517.3 1386.0L519.7 1385.5L522.2 1385.0L524.6 1384.6L527.1 1384.1L529.6 1383.6L532.0 1383.1L534.5 1382.7L537.0 1382.2L539.4 1381.7L541.9 1381.2L544.4 1380.7L546.8 1380.2L549.3 1379.7L551.7 1379.2L554.2 1378.7L556.7 1378.3L559.1 1377.8L561.6 1377.3L564.1 1376.8L566.5 1376.3L569.0 1375.8L571.5 1375.3L573.9 1374.8L576.4 1374.3L578.8 1373.8L581.3 1373.3L583.8 1372.8L586.2 1372.3L588.7 1371.8L591.2 1371.3L593.6 1370.8L596.1 1370.4L598.6 1369.9L601.0 1369.4L603.5 1368.9L606.0 1368.4L608.4 1367.9L610.9 1367.4L613.4 1367.0L615.8 1366.5L618.3 1366.0L620.8 1365.5L623.2 1365.1L625.7 1364.6L628.2 1364.1L630.6 1363.7L633.1 1363.2L635.6 1362.7L638.0 1362.3L640.5 1361.8L643.0 1361.4L645.4 1360.9L647.9 1360.5L650.4 1360.1L652.9 1359.6L655.3 1359.2L657.8 1358.8L660.3 1358.3L662.7 1357.9L665.2 1357.5L667.7 1357.1L670.2 1356.7L672.6 1356.3L675.1 1355.9L677.6 1355.5L680.1 1355.1L682.5 1354.7L685.0 1354.3L687.5 1353.9L690.0 1353.6L692.4 1353.2L694.9 1352.8L697.4 1352.5L699.9 1352.1L702.4 1351.8L704.8 1351.5L707.3 1351.1L709.8 1350.8L712.3 1350.5L714.8 1350.2L717.3 1349.9L719.7 1349.6L722.2 1349.3L724.7 1349.0L727.2 1348.7L729.7 1348.4L732.2 1348.2L734.6 1347.9L737.1 1347.7L739.6 1347.4L742.1 1347.2L744.6 1346.9L747.1 1346.7L749.6 1346.5L752.1 1346.3L754.6 1346.1L757.1 1345.9L759.5 1345.7L762.0 1345.5L764.5 1345.3L767.0 1345.2L769.5 1345.0L772.0 1344.8L774.5 1344.7L777.0 1344.5L779.5 1344.4L782.0 1344.3L784.5 1344.2L787.0 1344.0L789.5 1343.9L792.0 1343.8L794.5 1343.7L797.0 1343.6L799.5 1343.6L802.0 1343.5L804.5 1343.4L807.0 1343.3L809.5 1343.3L812.0 1343.2L814.5 1343.2L817.0 1343.1L819.5 1343.1L822.0 1343.1L824.5 1343.1L827.0 1343.1L829.5 1343.1L832.0 1343.0L834.5 1343.1L837.0 1343.1L839.4 1343.1L841.9 1343.1L844.4 1343.1L846.9 1343.2L849.4 1343.2L851.9 1343.3L854.4 1343.3L856.9 1343.4L859.4 1343.4L861.9 1343.5L864.4 1343.6L866.9 1343.7L869.4 1343.8L871.9 1343.9L874.4 1344.0L876.9 1344.1L879.4 1344.2L881.9 1344.3L884.4 1344.4L886.9 1344.6L889.4 1344.7L891.9 1344.8L894.4 1345.0L896.9 1345.1L899.4 1345.3L901.9 1345.5L904.4 1345.6L906.9 1345.8L909.4 1346.0L911.9 1346.2L914.3 1346.4L916.8 1346.6L919.3 1346.8L921.8 1347.0L924.3 1347.2L926.8 1347.4L929.3 1347.7L931.8 1347.9L934.3 1348.1L936.7 1348.4L939.2 1348.6L941.7 1348.9L944.2 1349.1L946.7 1349.4L949.2 1349.6L951.7 1349.9L954.1 1350.2L956.6 1350.5L959.1 1350.8L961.6 1351.1L964.1 1351.4L966.6 1351.7L969.0 1352.0L971.5 1352.3L974.0 1352.6L976.5 1352.9L979.0 1353.2L981.4 1353.5L983.9 1353.9L986.4 1354.2L988.9 1354.5L991.3 1354.9L993.8 1355.2L996.3 1355.6L998.8 1355.9L1001.3 1356.3L1003.7 1356.7L1006.2 1357.0L1008.7 1357.4L1011.2 1357.8L1013.6 1358.1L1016.1 1358.5L1018.6 1358.9L1021.0 1359.3L1023.5 1359.7L1026.0 1360.1L1028.5 1360.5L1030.9 1360.9L1033.4 1361.3L1035.9 1361.7L1038.3 1362.1L1040.8 1362.5L1043.3 1362.9L1045.8 1363.3L1048.2 1363.7L1050.7 1364.1L1053.2 1364.6L1055.6 1365.0L1058.1 1365.4L1060.6 1365.8L1063.0 1366.3L1065.5 1366.7L1068.0 1367.1L1070.4 1367.6L1072.9 1368.0L1075.4 1368.5L1077.9 1368.9L1080.3 1369.3L1082.8 1369.8L1085.3 1370.2L1087.7 1370.7L1090.2 1371.1L1092.7 1371.6L1095.1 1372.1L1097.6 1372.5L1100.0 1373.0L1102.5 1373.4L1105.0 1373.9L1107.4 1374.3L1109.9 1374.8L1112.4 1375.3L1114.8 1375.7L1117.3 1376.2L1119.8 1376.7L1122.2 1377.1L1124.7 1377.6L1127.2 1378.1L1129.6 1378.5L1132.1 1379.0L1134.6 1379.5L1137.0 1379.9L1139.5 1380.4L1142.0 1380.9L1144.4 1381.4L1146.9 1381.8L1149.4 1382.3L1151.8 1382.8L1154.3 1383.2L1156.7 1383.7L1159.2 1384.2L1161.7 1384.7L1164.1 1385.1L1166.6 1385.6L1169.1 1386.1L1171.5 1386.5L1174.0 1387.0L1176.5 1387.5L1178.9 1387.9L1181.4 1388.4L1183.9 1388.9L1186.3 1389.3L1188.8 1389.8L1191.3 1390.3L1193.7 1390.7L1196.2 1391.2L1198.7 1391.7L1201.1 1392.1L1203.6 1392.6L1206.1 1393.0L1208.5 1393.5L1211.0 1394.0L1213.5 1394.4L1215.9 1394.9L1218.4 1395.3L1220.9 1395.8L1223.3 1396.2L1225.8 1396.7L1228.3 1397.1L1230.7 1397.5L1233.2 1398.0L1235.7 1398.4L1238.1 1398.9L1240.6 1399.3L1243.1 1399.7L1245.6 1400.2L1248.0 1400.6L1250.5 1401.0L1253.0 1401.4L1255.4 1401.9L1257.9 1402.3L1260.4 1402.7L1262.8 1403.1L1265.3 1403.5L1267.8 1403.9L1270.3 1404.3L1272.7 1404.7L1275.2 1405.1L1277.7 1405.5L1280.2 1405.9L1282.6 1406.3L1285.1 1406.7L1287.6 1407.1L1290.1 1407.5L1292.5 1407.8L1295.0 1408.2L1297.5 1408.6L1300.0 1409.0L1302.4 1409.3L1304.9 1409.7L1307.4 1410.0L1309.9 1410.4L1312.3 1410.7L1314.8 1411.1L1317.3 1411.4L1319.8 1411.8L1322.3 1412.1L1324.7 1412.4L1327.2 1412.8L1329.7 1413.1L1332.2 1413.4L1334.7 1413.7L1337.2 1414.0L1339.6 1414.3L1342.1 1414.6L1344.6 1414.9L1347.1 1415.2L1349.6 1415.5L1352.1 1415.8L1354.5 1416.1L1357.0 1416.4L1359.5 1416.6L1362.0 1416.9L1364.5 1417.2L1367.0 1417.5L1369.5 1417.7L1371.9 1418.0L1374.4 1418.2L1376.9 1418.5L1379.4 1418.7L1381.9 1419.0L1384.4 1419.2L1386.9 1419.5L1389.4 1419.7L1391.9 1419.9L1394.4 1420.2L1396.8 1420.4L1399.3 1420.6L1401.8 1420.8L1404.3 1421.1L1406.8 1421.3L1409.3 1421.5L1411.8 1421.7L1414.3 1421.9L1416.8 1422.1L1419.3 1422.3L1421.8 1422.5L1424.3 1422.7L1426.8 1422.9L1429.3 1423.0L1431.8 1423.2L1434.3 1423.4L1436.8 1423.6L1439.2 1423.8L1441.7 1423.9L1444.2 1424.1L1446.7 1424.3L1449.2 1424.4L1451.7 1424.6L1454.2 1424.8L1456.7 1424.9L1459.2 1425.1L1461.7 1425.2L1464.2 1425.4L1466.7 1425.5L1469.2 1425.6L1471.7 1425.8L1474.2 1425.9L1476.7 1426.1L1479.2 1426.2L1481.7 1426.3L1484.2 1426.4L1486.7 1426.6L1489.2 1426.7L1491.7 1426.8L1494.2 1426.9L1496.7 1427.0L1499.2 1427.1L1501.7 1427.3L1504.2 1427.4L1506.8 1427.5L1509.3 1427.6L1511.8 1427.7L1514.3 1427.8L1516.8 1427.9L1519.3 1428.0L1521.8 1428.1L1524.3 1428.1L1526.8 1428.2L1529.3 1428.3L1531.8 1428.4L1534.3 1428.5L1536.8 1428.6L1539.3 1428.6L1541.8 1428.7L1544.3 1428.8L1546.8 1428.9L1549.3 1428.9L1551.8 1429.0L1554.4 1429.1L1556.9 1429.1L1559.4 1429.2L1561.9 1429.2L1564.4 1429.3L1566.9 1429.4L1569.4 1429.4L1571.9 1429.5L1574.4 1429.5L1576.9 1429.6L1579.4 1429.6L1581.9 1429.7L1584.4 1429.7L1587.0 1429.8L1589.5 1429.8L1592.0 1429.8L1594.5 1429.9L1597.0 1429.9L1599.5 1430.0L1602.0 1430.0L1604.5 1430.0L1607.0 1430.0L1609.5 1430.1L1612.0 1430.1L1614.6 1430.1L1617.1 1430.2L1619.6 1430.2L1622.1 1430.2L1624.6 1430.2L1627.1 1430.3L1629.6 1430.3L1632.1 1430.3L1634.6 1430.3L1637.1 1430.3L1639.7 1430.3L1642.2 1430.4L1644.7 1430.4L1647.2 1430.4L1649.7 1430.4L1652.2 1430.4L1654.7 1430.4L1657.2 1430.4L1659.7 1430.4L1662.3 1430.4L1664.8 1430.4L1667.3 1430.4L1669.8 1430.4L1672.3 1430.5L1674.8 1430.5L1677.3 1430.5L1679.8 1430.5L1682.3 1430.5L1684.9 1430.5L1687.4 1430.5L1689.9 1430.5L1692.4 1430.4L1694.9 1430.4L1697.4 1430.4L1699.9 1430.4L1702.4 1430.4L1704.9 1430.4L1707.5 1430.4L1710.0 1430.4L1712.5 1430.4L1715.0 1430.4L1717.5 1430.4L1720.0 1430.4L1722.5 1430.4L1725.0 1430.4L1727.5 1430.3L1730.1 1430.3L1732.6 1430.3L1735.1 1430.3L1737.6 1430.3L1740.1 1430.3L1742.6 1430.3L1745.1 1430.3L1747.6 1430.3L1750.1 1430.2L1752.6 1430.2L1755.2 1430.2L1757.7 1430.2L1760.2 1430.2L1762.7 1430.2L1765.2 1430.2L1767.7 1430.2L1770.2 1430.1L1772.7 1430.1L1775.2 1430.1L1777.7 1430.1L1780.3 1430.1L1782.8 1430.1L1785.3 1430.1L1787.8 1430.1L1790.3 1430.1L1792.8 1430.0L1795.3 1430.0L1797.8 1430.0L1800.3 1430.0L1802.8 1430.0L1805.4 1430.0L1807.9 1430.0L1810.4 1430.0L1812.9 1430.0L1815.4 1430.0L1817.9 1429.9L1820.4 1429.9L1822.9 1429.9L1825.4 1429.9L1827.9 1429.9L1830.4 1429.9L1832.9 1429.9L1835.4 1429.9L1838.0 1429.9L1840.5 1429.9L1843.0 1429.9L1845.5 1429.9L1848.0 1429.9L1850.5 1429.9L1853.0 1429.9L1855.5 1429.9L1858.0 1429.9L1860.5 1429.9L1863.0 1429.9L1865.5 1429.9L1868.0 1429.9L1870.5 1429.9L1873.0 1429.9L1875.5 1429.9L1878.0 1429.9L1880.5 1430.0L1883.0 1430.0L1885.5 1430.0L1888.1 1430.0L1890.6 1430.0L1893.1 1430.0L1895.6 1430.0L1898.1 1430.1L1900.6 1430.1L1903.1 1430.1L1905.6 1430.1L1908.1 1430.1L1910.6 1430.2L1913.1 1430.2L1915.6 1430.2L1918.1 1430.2L1920.6 1430.3L1923.1 1430.3L1925.6 1430.3L1928.1 1430.4L1930.6 1430.4L1933.1 1430.4L1935.6 1430.5L1938.1 1430.5L1940.6 1430.6L1943.1 1430.6L1945.6 1430.6L1948.1 1430.7L1950.6 1430.7L1953.0 1430.8L1955.5 1430.8L1958.0 1430.9L1960.5 1430.9L1963.0 1431.0L1965.5 1431.0L1968.0 1431.1L1970.5 1431.2L1973.0 1431.2L1975.5 1431.3L1978.0 1431.4L1980.5 1431.4L1983.0 1431.5L1985.5 1431.6L1988.0 1431.6" stroke="#00BFFF" stroke-width="10.4" stroke-linecap="round" stroke-dasharray="0 21.85"/>
<path d="M146.9 1424.8L149.5 1424.7L152.0 1424.7L154.6 1424.6L157.1 1424.5L159.7 1424.4L162.2 1424.3L164.7 1424.2L167.3 1424.0L169.8 1423.9L172.3 1423.7L174.8 1423.6L177.4 1423.4L179.9 1423.2L182.4 1423.0L184.9 1422.8L187.4 1422.6L189.9 1422.4L192.4 1422.1L194.9 1421.9L197.4 1421.6L199.9 1421.4L202.4 1421.1L204.9 1420.8L207.4 1420.5L209.9 1420.2L212.4 1419.9L214.9 1419.6L217.4 1419.2L219.8 1418.9L222.3 1418.6L224.8 1418.2L227.3 1417.8L229.7 1417.5L232.2 1417.1L234.7 1416.7L237.1 1416.3L239.6 1415.9L242.1 1415.5L244.5 1415.1L247.0 1414.6L249.4 1414.2L251.9 1413.8L254.3 1413.3L256.8 1412.8L259.2 1412.4L261.7 1411.9L264.1 1411.4L266.6 1410.9L269.0 1410.4L271.5 1409.9L273.9 1409.4L276.3 1408.9L278.8 1408.4L281.2 1407.9L283.6 1407.3L286.1 1406.8L288.5 1406.3L290.9 1405.7L293.3 1405.1L295.8 1404.6L298.2 1404.0L300.6 1403.4L303.0 1402.9L305.5 1402.3L307.9 1401.7L310.3 1401.1L312.7 1400.5L315.1 1399.9L317.6 1399.3L320.0 1398.6L322.4 1398.0L324.8 1397.4L327.2 1396.8L329.6 1396.1L332.0 1395.5L334.4 1394.8L336.9 1394.2L339.3 1393.5L341.7 1392.9L344.1 1392.2L346.5 1391.5L348.9 1390.9L351.3 1390.2L353.7 1389.5L356.1 1388.8L358.5 1388.1L360.9 1387.5L363.3 1386.8L365.7 1386.1L368.1 1385.4L370.5 1384.7L372.9 1384.0L375.3 1383.3L377.7 1382.6L380.1 1381.8L382.5 1381.1L384.9 1380.4L387.3 1379.7L389.7 1379.0L392.1 1378.3L394.5 1377.5L396.9 1376.8L399.3 1376.1L401.7 1375.3L404.1 1374.6L406.5 1373.9L408.9 1373.1L411.3 1372.4L413.7 1371.7L416.1 1370.9L418.5 1370.2L420.9 1369.4L423.3 1368.7L425.7 1367.9L428.1 1367.2L430.5 1366.5L432.9 1365.7L435.3 1365.0L437.7 1364.2L440.1 1363.5L442.5 1362.7L444.9 1362.0L447.3 1361.2L449.7 1360.5L452.1 1359.7L454.5 1359.0L456.9 1358.2L459.3 1357.5L461.7 1356.7L464.1 1356.0L466.5 1355.2L468.9 1354.5L471.4 1353.8L473.8 1353.0L476.2 1352.3L478.6 1351.5L481.0 1350.8L483.4 1350.1L485.8 1349.3L488.3 1348.6L490.7 1347.9L493.1 1347.1L495.5 1346.4L497.9 1345.7L500.4 1345.0L502.8 1344.2L505.2 1343.5L507.6 1342.8L510.0 1342.1L512.5 1341.4L514.9 1340.7L517.3 1340.0L519.8 1339.3L522.2 1338.6L524.6 1337.9L527.0 1337.3L529.5 1336.6L531.9 1335.9L534.3 1335.3L536.8 1334.6L539.2 1333.9L541.7 1333.3L544.1 1332.7L546.5 1332.0L549.0 1331.4L551.4 1330.8L553.9 1330.2L556.3 1329.6L558.7 1329.0L561.2 1328.4L563.6 1327.8L566.1 1327.3L568.5 1326.7L571.0 1326.2L573.4 1325.6L575.9 1325.1L578.3 1324.6L580.8 1324.0L583.2 1323.5L585.7 1323.1L588.1 1322.6L590.6 1322.1L593.0 1321.6L595.5 1321.2L597.9 1320.7L600.4 1320.3L602.8 1319.9L605.3 1319.5L607.8 1319.1L610.2 1318.7L612.7 1318.3L615.1 1318.0L617.6 1317.6L620.1 1317.3L622.5 1317.0L625.0 1316.7L627.4 1316.4L629.9 1316.1L632.4 1315.9L634.8 1315.6L637.3 1315.4L639.8 1315.2L642.2 1315.0L644.7 1314.8L647.2 1314.6L649.6 1314.4L652.1 1314.3L654.6 1314.2L657.1 1314.1L659.5 1314.0L662.0 1313.9L664.5 1313.8L666.9 1313.8L669.4 1313.8L671.9 1313.7L674.4 1313.7L676.8 1313.7L679.3 1313.8L681.8 1313.8L684.3 1313.9L686.7 1313.9L689.2 1314.0L691.7 1314.1L694.2 1314.2L696.6 1314.4L699.1 1314.5L701.6 1314.7L704.1 1314.8L706.5 1315.0L709.0 1315.2L711.5 1315.4L714.0 1315.6L716.4 1315.9L718.9 1316.1L721.4 1316.4L723.9 1316.6L726.3 1316.9L728.8 1317.2L731.3 1317.5L733.7 1317.9L736.2 1318.2L738.7 1318.5L741.1 1318.9L743.6 1319.3L746.1 1319.6L748.5 1320.0L751.0 1320.4L753.5 1320.9L755.9 1321.3L758.4 1321.7L760.9 1322.2L763.3 1322.6L765.8 1323.1L768.2 1323.6L770.7 1324.1L773.1 1324.6L775.6 1325.1L778.1 1325.6L780.5 1326.1L783.0 1326.7L785.4 1327.2L787.8 1327.8L790.3 1328.3L792.7 1328.9L795.2 1329.5L797.6 1330.1L800.1 1330.7L802.5 1331.3L804.9 1331.9L807.4 1332.6L809.8 1333.2L812.2 1333.8L814.7 1334.5L817.1 1335.2L819.5 1335.8L821.9 1336.5L824.4 1337.2L826.8 1337.9L829.2 1338.6L831.6 1339.3L834.0 1340.0L836.4 1340.7L838.8 1341.4L841.3 1342.2L843.7 1342.9L846.1 1343.7L848.5 1344.4L850.9 1345.2L853.3 1345.9L855.7 1346.7L858.1 1347.5L860.5 1348.2L862.9 1349.0L865.3 1349.8L867.7 1350.6L870.0 1351.4L872.4 1352.2L874.8 1353.0L877.2 1353.8L879.6 1354.6L882.0 1355.4L884.4 1356.2L886.8 1357.0L889.2 1357.8L891.5 1358.6L893.9 1359.4L896.3 1360.2L898.7 1361.1L901.1 1361.9L903.5 1362.7L905.8 1363.5L908.2 1364.3L910.6 1365.1L913.0 1365.9L915.4 1366.8L917.8 1367.6L920.1 1368.4L922.5 1369.2L924.9 1370.0L927.3 1370.8L929.7 1371.6L932.1 1372.4L934.4 1373.2L936.8 1374.0L939.2 1374.8L941.6 1375.6L944.0 1376.4L946.4 1377.2L948.8 1377.9L951.2 1378.7L953.5 1379.5L955.9 1380.2L958.3 1381.0L960.7 1381.8L963.1 1382.5L965.5 1383.2L967.9 1384.0L970.3 1384.7L972.7 1385.4L975.1 1386.2L977.5 1386.9L979.9 1387.6L982.3 1388.3L984.7 1389.0L987.1 1389.7L989.5 1390.3L991.9 1391.0L994.4 1391.7L996.8 1392.3L999.2 1393.0L1001.6 1393.6L1004.0 1394.2L1006.4 1394.8L1008.9 1395.5L1011.3 1396.1L1013.7 1396.7L1016.1 1397.3L1018.6 1397.8L1021.0 1398.4L1023.4 1399.0L1025.9 1399.5L1028.3 1400.1L1030.7 1400.6L1033.2 1401.2L1035.6 1401.7L1038.0 1402.2L1040.5 1402.8L1042.9 1403.3L1045.4 1403.8L1047.8 1404.3L1050.3 1404.8L1052.7 1405.3L1055.2 1405.7L1057.6 1406.2L1060.1 1406.7L1062.5 1407.1L1065.0 1407.6L1067.4 1408.0L1069.9 1408.5L1072.3 1408.9L1074.8 1409.4L1077.2 1409.8L1079.7 1410.2L1082.2 1410.6L1084.6 1411.0L1087.1 1411.4L1089.6 1411.8L1092.0 1412.2L1094.5 1412.6L1097.0 1412.9L1099.4 1413.3L1101.9 1413.7L1104.4 1414.0L1106.8 1414.4L1109.3 1414.7L1111.8 1415.1L1114.3 1415.4L1116.7 1415.8L1119.2 1416.1L1121.7 1416.4L1124.2 1416.7L1126.6 1417.0L1129.1 1417.4L1131.6 1417.7L1134.1 1418.0L1136.6 1418.3L1139.0 1418.5L1141.5 1418.8L1144.0 1419.1L1146.5 1419.4L1149.0 1419.7L1151.4 1419.9L1153.9 1420.2L1156.4 1420.4L1158.9 1420.7L1161.4 1420.9L1163.9 1421.2L1166.4 1421.4L1168.9 1421.7L1171.3 1421.9L1173.8 1422.1L1176.3 1422.4L1178.8 1422.6L1181.3 1422.8L1183.8 1423.0L1186.3 1423.2L1188.8 1423.4L1191.3 1423.6L1193.8 1423.8L1196.2 1424.0L1198.7 1424.2L1201.2 1424.4L1203.7 1424.6L1206.2 1424.8L1208.7 1425.0L1211.2 1425.1L1213.7 1425.3L1216.2 1425.5L1218.7 1425.6L1221.2 1425.8L1223.7 1425.9L1226.2 1426.1L1228.7 1426.3L1231.2 1426.4L1233.7 1426.5L1236.2 1426.7L1238.7 1426.8L1241.2 1427.0L1243.7 1427.1L1246.2 1427.2L1248.7 1427.3L1251.2 1427.5L1253.7 1427.6L1256.2 1427.7L1258.7 1427.8L1261.2 1427.9L1263.7 1428.0L1266.2 1428.1L1268.7 1428.2L1271.2 1428.3L1273.7 1428.4L1276.2 1428.5L1278.7 1428.6L1281.2 1428.7L1283.7 1428.8L1286.2 1428.9L1288.7 1429.0L1291.2 1429.1L1293.7 1429.1L1296.2 1429.2L1298.7 1429.3L1301.3 1429.3L1303.8 1429.4L1306.3 1429.5L1308.8 1429.5L1311.3 1429.6L1313.8 1429.7L1316.3 1429.7L1318.8 1429.8L1321.3 1429.8L1323.8 1429.9L1326.3 1429.9L1328.8 1430.0L1331.3 1430.0L1333.8 1430.0L1336.4 1430.1L1338.9 1430.1L1341.4 1430.2L1343.9 1430.2L1346.4 1430.2L1348.9 1430.3L1351.4 1430.3L1353.9 1430.3L1356.4 1430.3L1358.9 1430.4L1361.5 1430.4L1364.0 1430.4L1366.5 1430.4L1369.0 1430.4L1371.5 1430.4L1374.0 1430.5L1376.5 1430.5L1379.0 1430.5L1381.5 1430.5L1384.1 1430.5L1386.6 1430.5L1389.1 1430.5L1391.6 1430.5L1394.1 1430.5L1396.6 1430.5L1399.1 1430.5L1401.6 1430.5L1404.1 1430.5L1406.7 1430.5L1409.2 1430.5L1411.7 1430.5L1414.2 1430.5L1416.7 1430.5L1419.2 1430.5L1421.7 1430.5L1424.2 1430.5L1426.8 1430.5L1429.3 1430.4L1431.8 1430.4L1434.3 1430.4L1436.8 1430.4L1439.3 1430.4L1441.8 1430.4L1444.3 1430.4L1446.9 1430.3L1449.4 1430.3L1451.9 1430.3L1454.4 1430.3L1456.9 1430.3L1459.4 1430.2L1461.9 1430.2L1464.4 1430.2L1467.0 1430.2L1469.5 1430.2L1472.0 1430.1L1474.5 1430.1L1477.0 1430.1L1479.5 1430.1L1482.0 1430.1L1484.5 1430.0L1487.1 1430.0L1489.6 1430.0L1492.1 1430.0L1494.6 1429.9L1497.1 1429.9L1499.6 1429.9L1502.1 1429.9L1504.6 1429.9L1507.1 1429.8L1509.7 1429.8L1512.2 1429.8L1514.7 1429.8L1517.2 1429.7L1519.7 1429.7L1522.2 1429.7L1524.7 1429.7L1527.2 1429.7L1529.7 1429.6L1532.3 1429.6L1534.8 1429.6L1537.3 1429.6L1539.8 1429.6L1542.3 1429.6L1544.8 1429.5L1547.3 1429.5L1549.8 1429.5L1552.3 1429.5L1554.8 1429.5L1557.3 1429.5L1559.9 1429.4L1562.4 1429.4L1564.9 1429.4L1567.4 1429.4L1569.9 1429.4L1572.4 1429.4L1574.9 1429.4L1577.4 1429.4L1579.9 1429.4L1582.4 1429.4L1584.9 1429.4L1587.4 1429.4L1589.9 1429.4L1592.4 1429.4L1594.9 1429.4L1597.4 1429.4L1600.0 1429.4L1602.5 1429.4L1605.0 1429.4L1607.5 1429.4L1610.0 1429.4L1612.5 1429.4L1615.0 1429.4L1617.5 1429.4L1620.0 1429.4L1622.5 1429.4L1625.0 1429.4L1627.5 1429.4L1630.0 1429.4L1632.5 1429.5L1635.0 1429.5L1637.5 1429.5L1640.0 1429.5L1642.5 1429.5L1645.0 1429.5L1647.5 1429.5L1650.0 1429.5L1652.5 1429.6L1655.0 1429.6L1657.5 1429.6L1660.0 1429.6L1662.5 1429.6L1665.0 1429.7L1667.5 1429.7L1670.0 1429.7L1672.5 1429.7L1675.0 1429.7L1677.5 1429.8L1680.0 1429.8L1682.5 1429.8L1685.0 1429.8L1687.5 1429.8L1690.0 1429.9L1692.5 1429.9L1695.0 1429.9L1697.5 1429.9L1700.0 1430.0L1702.5 1430.0L1705.0 1430.0L1707.5 1430.0L1710.0 1430.1L1712.5 1430.1L1715.0 1430.1L1717.5 1430.1L1720.0 1430.2L1722.5 1430.2L1725.0 1430.2L1727.5 1430.2L1730.0 1430.3L1732.5 1430.3L1735.0 1430.3L1737.5 1430.4L1740.0 1430.4L1742.5 1430.4L1745.0 1430.4L1747.5 1430.5L1750.0 1430.5L1752.5 1430.5L1755.0 1430.5L1757.5 1430.6L1760.0 1430.6L1762.5 1430.6L1765.0 1430.6L1767.5 1430.7L1770.0 1430.7L1772.5 1430.7L1775.0 1430.8L1777.5 1430.8L1780.0 1430.8L1782.5 1430.8L1785.0 1430.9L1787.5 1430.9L1790.0 1430.9L1792.5 1430.9L1795.0 1431.0L1797.5 1431.0L1800.0 1431.0L1802.5 1431.0L1805.0 1431.1L1807.5 1431.1L1810.0 1431.1L1812.5 1431.1L1815.0 1431.1L1817.5 1431.2L1820.0 1431.2L1822.5 1431.2L1825.0 1431.2L1827.5 1431.2L1830.0 1431.3L1832.5 1431.3L1835.0 1431.3L1837.5 1431.3L1840.0 1431.3L1842.5 1431.4L1845.0 1431.4L1847.5 1431.4L1850.0 1431.4L1852.6 1431.4L1855.1 1431.4L1857.6 1431.5L1860.1 1431.5L1862.6 1431.5L1865.1 1431.5L1867.6 1431.5L1870.1 1431.5L1872.6 1431.5L1875.1 1431.5L1877.6 1431.5L1880.1 1431.5L1882.6 1431.6L1885.1 1431.6L1887.6 1431.6L1890.1 1431.6L1892.6 1431.6L1895.1 1431.6L1897.6 1431.6L1900.1 1431.6L1902.6 1431.6L1905.1 1431.6L1907.7 1431.6L1910.2 1431.6L1912.7 1431.6L1915.2 1431.6L1917.7 1431.6L1920.2 1431.6L1922.7 1431.5L1925.2 1431.5L1927.7 1431.5L1930.2 1431.5L1932.7 1431.5L1935.2 1431.5L1937.8 1431.5L1940.3 1431.5L1942.8 1431.4L1945.3 1431.4L1947.8 1431.4L1950.3 1431.4L1952.8 1431.4L1955.3 1431.4L1957.8 1431.3L1960.4 1431.3L1962.9 1431.3L1965.4 1431.3L1967.9 1431.2L1970.4 1431.2L1972.9 1431.2L1975.4 1431.1L1978.0 1431.1L1980.5 1431.1L1983.0 1431.0L1985.5 1431.0L1988.0 1431.0" stroke="#4D74FF" stroke-width="10.4" stroke-linecap="round" stroke-dasharray="0 21.85"/>
<path d="M147.0 1401.1L149.1 1399.6L151.2 1398.1L153.3 1396.6L155.3 1395.1L157.3 1393.5L159.3 1392.0L161.2 1390.4L163.2 1388.7L165.1 1387.1L166.9 1385.5L168.8 1383.8L170.6 1382.1L172.4 1380.4L174.2 1378.7L176.0 1376.9L177.7 1375.2L179.4 1373.4L181.1 1371.6L182.8 1369.8L184.4 1368.0L186.0 1366.1L187.6 1364.3L189.2 1362.4L190.8 1360.5L192.3 1358.6L193.8 1356.7L195.3 1354.8L196.8 1352.8L198.3 1350.8L199.7 1348.9L201.1 1346.9L202.5 1344.9L203.9 1342.8L205.3 1340.8L206.6 1338.8L208.0 1336.7L209.3 1334.6L210.6 1332.5L211.8 1330.4L213.1 1328.3L214.3 1326.2L215.6 1324.0L216.8 1321.9L218.0 1319.7L219.2 1317.6L220.3 1315.4L221.5 1313.2L222.6 1311.0L223.7 1308.8L224.8 1306.5L225.9 1304.3L227.0 1302.1L228.0 1299.8L229.1 1297.6L230.1 1295.3L231.1 1293.0L232.2 1290.7L233.2 1288.4L234.1 1286.1L235.1 1283.8L236.1 1281.5L237.0 1279.1L238.0 1276.8L238.9 1274.5L239.8 1272.1L240.7 1269.7L241.6 1267.4L242.5 1265.0L243.4 1262.6L244.2 1260.2L245.1 1257.9L245.9 1255.5L246.8 1253.1L247.6 1250.7L248.4 1248.2L249.2 1245.8L250.0 1243.4L250.8 1241.0L251.6 1238.6L252.4 1236.1L253.2 1233.7L254.0 1231.3L254.7 1228.8L255.5 1226.4L256.2 1223.9L257.0 1221.5L257.7 1219.0L258.5 1216.6L259.2 1214.1L259.9 1211.7L260.7 1209.2L261.4 1206.7L262.1 1204.3L262.8 1201.8L263.5 1199.4L264.2 1196.9L264.9 1194.4L265.6 1192.0L266.3 1189.5L267.0 1187.0L267.7 1184.6L268.4 1182.1L269.1 1179.7L269.8 1177.2L270.5 1174.7L271.2 1172.3L271.9 1169.8L272.5 1167.4L273.2 1164.9L273.9 1162.5L274.6 1160.1L275.3 1157.6L276.0 1155.2L276.7 1152.7L277.4 1150.3L278.1 1147.9L278.7 1145.4L279.4 1143.0L280.1 1140.6L280.8 1138.2L281.5 1135.7L282.2 1133.3L282.9 1130.9L283.6 1128.5L284.3 1126.1L284.9 1123.6L285.6 1121.2L286.3 1118.8L287.0 1116.4L287.7 1114.0L288.4 1111.6L289.1 1109.2L289.8 1106.8L290.4 1104.4L291.1 1102.0L291.8 1099.6L292.5 1097.2L293.2 1094.8L293.9 1092.4L294.6 1090.0L295.3 1087.6L295.9 1085.2L296.6 1082.8L297.3 1080.4L298.0 1078.0L298.7 1075.6L299.4 1073.2L300.1 1070.8L300.8 1068.5L301.4 1066.1L302.1 1063.7L302.8 1061.3L303.5 1058.9L304.2 1056.5L304.9 1054.1L305.6 1051.8L306.2 1049.4L306.9 1047.0L307.6 1044.6L308.3 1042.2L309.0 1039.9L309.7 1037.5L310.3 1035.1L311.0 1032.7L311.7 1030.3L312.4 1028.0L313.1 1025.6L313.8 1023.2L314.5 1020.8L315.1 1018.4L315.8 1016.1L316.5 1013.7L317.2 1011.3L317.9 1008.9L318.6 1006.5L319.2 1004.2L319.9 1001.8L320.6 999.4L321.3 997.0L322.0 994.7L322.6 992.3L323.3 989.9L324.0 987.5L324.7 985.1L325.4 982.8L326.1 980.4L326.7 978.0L327.4 975.6L328.1 973.2L328.8 970.8L329.5 968.5L330.1 966.1L330.8 963.7L331.5 961.3L332.2 958.9L332.9 956.5L333.5 954.1L334.2 951.8L334.9 949.4L335.6 947.0L336.3 944.6L336.9 942.2L337.6 939.8L338.3 937.4L339.0 935.0L339.6 932.6L340.3 930.2L341.0 927.8L341.7 925.4L342.3 923.0L343.0 920.6L343.7 918.2L344.4 915.8L345.1 913.4L345.7 911.0L346.4 908.6L347.1 906.1L347.8 903.7L348.4 901.3L349.1 898.9L349.8 896.5L350.4 894.1L351.1 891.6L351.8 889.2L352.5 886.8L353.1 884.4L353.8 881.9L354.5 879.5L355.2 877.1L355.8 874.7L356.5 872.2L357.2 869.8L357.9 867.4L358.5 864.9L359.2 862.5L359.9 860.1L360.6 857.6L361.2 855.2L361.9 852.8L362.6 850.4L363.2 847.9L363.9 845.5L364.6 843.1L365.3 840.7L365.9 838.2L366.6 835.8L367.3 833.4L368.0 831.0L368.7 828.5L369.3 826.1L370.0 823.7L370.7 821.3L371.4 818.9L372.0 816.5L372.7 814.0L373.4 811.6L374.1 809.2L374.8 806.8L375.5 804.4L376.1 802.0L376.8 799.6L377.5 797.2L378.2 794.8L378.9 792.4L379.6 790.1L380.2 787.7L380.9 785.3L381.6 782.9L382.3 780.5L383.0 778.2L383.7 775.8L384.4 773.4L385.1 771.1L385.8 768.7L386.5 766.3L387.2 764.0L387.9 761.6L388.7 759.3L389.4 756.9L390.1 754.6L390.9 752.2L391.6 749.9L392.4 747.5L393.2 745.1L394.0 742.8L394.8 740.4L395.6 738.1L396.5 735.7L397.3 733.3L398.2 731.0L399.1 728.6L400.0 726.2L400.9 723.9L401.9 721.5L402.9 719.1L403.9 716.7L404.9 714.3L405.9 711.9L407.0 709.5L408.0 707.1L409.2 704.7L410.3 702.3L411.5 699.9L412.7 697.4L413.9 695.0L415.1 692.6L416.4 690.2L417.7 687.9L419.1 685.6L420.5 683.3L421.9 681.0L423.4 678.8L424.9 676.6L426.5 674.5L428.1 672.4L429.7 670.4L431.4 668.5L433.2 666.7L434.9 664.9L436.8 663.2L438.7 661.6L440.6 660.1L442.6 658.7L444.7 657.4L446.8 656.2L448.9 655.1L451.1 654.1L453.4 653.3L455.6 652.5L457.9 651.8L460.3 651.3L462.6 650.9L465.0 650.5L467.4 650.3L469.8 650.2L472.2 650.2L474.6 650.3L477.0 650.5L479.3 650.9L481.7 651.3L484.1 651.9L486.4 652.6L488.8 653.4L491.1 654.3L493.3 655.3L495.6 656.4L497.8 657.5L500.0 658.8L502.1 660.2L504.2 661.6L506.3 663.1L508.3 664.7L510.3 666.3L512.3 668.0L514.2 669.7L516.0 671.5L517.8 673.3L519.6 675.2L521.3 677.1L523.0 679.1L524.7 681.1L526.3 683.1L527.9 685.2L529.4 687.3L530.9 689.4L532.4 691.5L533.8 693.7L535.3 695.9L536.6 698.2L538.0 700.4L539.3 702.7L540.7 705.0L541.9 707.3L543.2 709.6L544.4 711.9L545.7 714.2L546.9 716.6L548.1 718.9L549.2 721.2L550.4 723.6L551.5 725.9L552.7 728.3L553.8 730.6L554.9 732.9L556.0 735.3L557.1 737.6L558.1 739.9L559.2 742.2L560.3 744.5L561.3 746.8L562.4 749.0L563.4 751.3L564.5 753.6L565.5 755.8L566.6 758.1L567.6 760.4L568.6 762.6L569.7 764.8L570.7 767.1L571.7 769.3L572.8 771.5L573.8 773.7L574.8 775.9L575.8 778.2L576.9 780.4L577.9 782.6L579.0 784.7L580.0 786.9L581.1 789.1L582.1 791.3L583.2 793.5L584.3 795.7L585.4 797.8L586.5 800.0L587.6 802.2L588.7 804.3L589.8 806.5L590.9 808.6L592.1 810.8L593.2 813.0L594.4 815.1L595.6 817.2L596.7 819.4L597.9 821.5L599.1 823.7L600.4 825.8L601.6 827.9L602.8 830.1L604.1 832.2L605.3 834.3L606.6 836.4L607.9 838.5L609.1 840.7L610.4 842.8L611.7 844.9L613.1 847.0L614.4 849.1L615.7 851.2L617.0 853.3L618.4 855.3L619.7 857.4L621.1 859.5L622.5 861.6L623.9 863.7L625.3 865.7L626.7 867.8L628.1 869.9L629.5 871.9L630.9 874.0L632.3 876.0L633.8 878.1L635.2 880.1L636.7 882.1L638.1 884.2L639.6 886.2L641.1 888.2L642.6 890.2L644.1 892.2L645.6 894.3L647.1 896.3L648.6 898.3L650.1 900.3L651.6 902.3L653.2 904.2L654.7 906.2L656.2 908.2L657.8 910.2L659.4 912.1L660.9 914.1L662.5 916.1L664.1 918.0L665.6 920.0L667.2 921.9L668.8 923.8L670.4 925.8L672.0 927.7L673.6 929.6L675.2 931.5L676.9 933.5L678.5 935.4L680.1 937.3L681.7 939.2L683.4 941.1L685.0 943.0L686.6 944.9L688.3 946.8L689.9 948.7L691.6 950.5L693.2 952.4L694.9 954.3L696.5 956.2L698.2 958.1L699.8 959.9L701.5 961.8L703.2 963.7L704.8 965.5L706.5 967.4L708.2 969.3L709.8 971.1L711.5 973.0L713.2 974.9L714.8 976.7L716.5 978.6L718.2 980.4L719.8 982.3L721.5 984.2L723.2 986.0L724.8 987.9L726.5 989.8L728.2 991.6L729.8 993.5L731.5 995.4L733.1 997.2L734.8 999.1L736.4 1001.0L738.1 1002.8L739.7 1004.7L741.4 1006.6L743.0 1008.5L744.7 1010.3L746.3 1012.2L747.9 1014.1L749.5 1016.0L751.2 1017.9L752.8 1019.8L754.4 1021.7L756.0 1023.6L757.6 1025.5L759.2 1027.4L760.8 1029.3L762.4 1031.2L764.0 1033.2L765.5 1035.1L767.1 1037.0L768.7 1039.0L770.2 1040.9L771.8 1042.8L773.3 1044.8L774.9 1046.7L776.4 1048.7L777.9 1050.7L779.4 1052.7L781.0 1054.6L782.5 1056.6L784.0 1058.6L785.4 1060.6L786.9 1062.6L788.4 1064.6L789.8 1066.6L791.3 1068.7L792.7 1070.7L794.2 1072.7L795.6 1074.8L797.0 1076.8L798.4 1078.9L799.8 1081.0L801.2 1083.1L802.5 1085.2L803.9 1087.3L805.2 1089.4L806.6 1091.5L807.9 1093.6L809.2 1095.7L810.5 1097.9L811.8 1100.0L813.1 1102.2L814.4 1104.3L815.7 1106.5L817.0 1108.7L818.2 1110.8L819.5 1113.0L820.7 1115.2L821.9 1117.4L823.2 1119.6L824.4 1121.8L825.6 1124.0L826.8 1126.2L828.0 1128.5L829.2 1130.7L830.4 1132.9L831.6 1135.2L832.7 1137.4L833.9 1139.6L835.1 1141.9L836.3 1144.1L837.4 1146.4L838.6 1148.6L839.7 1150.9L840.9 1153.2L842.0 1155.4L843.1 1157.7L844.3 1159.9L845.4 1162.2L846.6 1164.5L847.7 1166.7L848.8 1169.0L849.9 1171.3L851.1 1173.6L852.2 1175.8L853.3 1178.1L854.4 1180.4L855.6 1182.6L856.7 1184.9L857.8 1187.2L858.9 1189.4L860.0 1191.7L861.2 1194.0L862.3 1196.2L863.4 1198.5L864.5 1200.8L865.7 1203.0L866.8 1205.3L867.9 1207.5L869.0 1209.8L870.2 1212.0L871.3 1214.3L872.5 1216.5L873.6 1218.7L874.8 1221.0L875.9 1223.2L877.1 1225.4L878.2 1227.7L879.4 1229.9L880.6 1232.1L881.7 1234.3L882.9 1236.5L884.1 1238.7L885.3 1240.9L886.5 1243.0L887.7 1245.2L888.9 1247.4L890.1 1249.5L891.3 1251.7L892.6 1253.9L893.8 1256.0L895.0 1258.1L896.3 1260.3L897.5 1262.4L898.8 1264.5L900.1 1266.6L901.3 1268.7L902.6 1270.8L903.9 1272.9L905.2 1275.0L906.5 1277.1L907.8 1279.2L909.1 1281.2L910.5 1283.3L911.8 1285.4L913.1 1287.5L914.5 1289.5L915.8 1291.6L917.2 1293.6L918.5 1295.7L919.9 1297.8L921.3 1299.8L922.6 1301.9L924.0 1303.9L925.4 1306.0L926.8 1308.0L928.2 1310.0L929.6 1312.1L931.0 1314.1L932.5 1316.2L933.9 1318.2L935.3 1320.3L936.8 1322.3L938.2 1324.4L939.7 1326.4L941.1 1328.4L942.6 1330.5L944.0 1332.5L945.5 1334.6L947.0 1336.7L948.5 1338.7L950.0 1340.8L951.5 1342.8L953.0 1344.9L954.5 1347.0L956.0 1349.0L957.5 1351.1L959.0 1353.1L960.6 1355.2L962.1 1357.2L963.7 1359.2L965.3 1361.2L966.9 1363.2L968.5 1365.2L970.1 1367.2L971.7 1369.2L973.4 1371.1L975.1 1373.0L976.8 1374.9L978.5 1376.8L980.2 1378.6L981.9 1380.5L983.7 1382.3L985.5 1384.0L987.3 1385.8L989.1 1387.5L991.0 1389.2L992.8 1390.8L994.7 1392.4L996.7 1394.0L998.6 1395.6L1000.6 1397.1L1002.6 1398.5L1004.6 1399.9L1006.7 1401.3L1008.8 1402.7L1010.9 1404.0L1013.0 1405.2L1015.2 1406.5L1017.4 1407.7L1019.6 1408.8L1021.8 1409.9L1024.0 1411.0L1026.3 1412.1L1028.5 1413.1L1030.8 1414.1L1033.1 1415.0L1035.5 1415.9L1037.8 1416.8L1040.1 1417.7L1042.5 1418.5L1044.9 1419.3L1047.3 1420.0L1049.7 1420.8L1052.1 1421.5L1054.5 1422.1L1056.9 1422.8L1059.4 1423.4L1061.8 1424.0L1064.3 1424.5L1066.7 1425.0L1069.2 1425.5L1071.6 1426.0L1074.1 1426.5L1076.6 1426.9L1079.1 1427.3L1081.5 1427.7L1084.0 1428.0L1086.5 1428.3L1089.0 1428.7L1091.5 1428.9L1093.9 1429.2L1096.4 1429.4L1098.9 1429.7L1101.4 1429.9L1103.9 1430.1L1106.4 1430.3L1108.9 1430.4L1111.4 1430.6L1113.9 1430.7L1116.4 1430.8L1118.9 1430.9L1121.4 1431.0L1123.9 1431.1L1126.4 1431.2L1128.9 1431.2L1131.4 1431.3L1133.9 1431.3L1136.4 1431.4L1138.9 1431.4L1141.4 1431.4L1143.9 1431.4L1146.4 1431.5L1149.0 1431.5L1151.5 1431.5L1154.0 1431.5L1156.5 1431.5L1159.0 1431.5L1161.5 1431.5L1164.0 1431.5L1166.5 1431.5L1169.0 1431.5L1171.5 1431.5L1174.0 1431.5L1176.5 1431.5L1179.0 1431.6L1181.6 1431.6L1184.1 1431.6L1186.6 1431.6L1189.1 1431.6L1191.6 1431.6L1194.1 1431.6L1196.6 1431.6L1199.1 1431.6L1201.6 1431.6L1204.1 1431.6L1206.6 1431.6L1209.1 1431.6L1211.6 1431.6L1214.1 1431.6L1216.6 1431.6L1219.1 1431.6L1221.7 1431.6L1224.2 1431.6L1226.7 1431.6L1229.2 1431.6L1231.7 1431.6L1234.2 1431.6L1236.7 1431.7L1239.2 1431.7L1241.7 1431.7L1244.2 1431.7L1246.7 1431.7L1249.2 1431.7L1251.7 1431.7L1254.2 1431.7L1256.7 1431.7L1259.2 1431.7L1261.7 1431.7L1264.2 1431.7L1266.7 1431.7L1269.2 1431.7L1271.8 1431.7L1274.3 1431.7L1276.8 1431.7L1279.3 1431.7L1281.8 1431.7L1284.3 1431.7L1286.8 1431.7L1289.3 1431.7L1291.8 1431.7L1294.3 1431.7L1296.8 1431.7L1299.3 1431.7L1301.8 1431.7L1304.3 1431.7L1306.8 1431.7L1309.3 1431.7L1311.8 1431.7L1314.3 1431.7L1316.8 1431.7L1319.3 1431.7L1321.8 1431.7L1324.3 1431.7L1326.8 1431.7L1329.3 1431.7L1331.9 1431.7L1334.4 1431.7L1336.9 1431.7L1339.4 1431.7L1341.9 1431.7L1344.4 1431.7L1346.9 1431.7L1349.4 1431.7L1351.9 1431.7L1354.4 1431.7L1356.9 1431.7L1359.4 1431.7L1361.9 1431.7L1364.4 1431.8L1366.9 1431.8L1369.4 1431.8L1371.9 1431.8L1374.4 1431.8L1376.9 1431.8L1379.4 1431.8L1381.9 1431.8L1384.4 1431.8L1386.9 1431.8L1389.4 1431.8L1391.9 1431.8L1394.4 1431.8L1396.9 1431.8L1399.5 1431.8L1402.0 1431.8L1404.5 1431.8L1407.0 1431.8L1409.5 1431.8L1412.0 1431.8L1414.5 1431.8L1417.0 1431.8L1419.5 1431.8L1422.0 1431.8L1424.5 1431.8L1427.0 1431.8L1429.5 1431.8L1432.0 1431.8L1434.5 1431.8L1437.0 1431.8L1439.5 1431.8L1442.0 1431.8L1444.5 1431.8L1447.0 1431.8L1449.5 1431.8L1452.0 1431.8L1454.5 1431.8L1457.0 1431.8L1459.5 1431.8L1462.0 1431.8L1464.6 1431.8L1467.1 1431.8L1469.6 1431.8L1472.1 1431.8L1474.6 1431.8L1477.1 1431.8L1479.6 1431.8L1482.1 1431.8L1484.6 1431.8L1487.1 1431.8L1489.6 1431.8L1492.1 1431.8L1494.6 1431.8L1497.1 1431.8L1499.6 1431.8L1502.1 1431.8L1504.6 1431.8L1507.1 1431.8L1509.6 1431.8L1512.1 1431.8L1514.6 1431.8L1517.1 1431.8L1519.6 1431.8L1522.2 1431.8L1524.7 1431.8L1527.2 1431.8L1529.7 1431.8L1532.2 1431.8L1534.7 1431.8L1537.2 1431.8L1539.7 1431.8L1542.2 1431.8L1544.7 1431.8L1547.2 1431.8L1549.7 1431.8L1552.2 1431.8L1554.7 1431.8L1557.2 1431.8L1559.7 1431.8L1562.2 1431.8L1564.7 1431.8L1567.2 1431.8L1569.7 1431.8L1572.2 1431.8L1574.7 1431.8L1577.3 1431.8L1579.8 1431.8L1582.3 1431.8L1584.8 1431.8L1587.3 1431.8L1589.8 1431.8L1592.3 1431.8L1594.8 1431.8L1597.3 1431.8L1599.8 1431.8L1602.3 1431.8L1604.8 1431.8L1607.3 1431.8L1609.8 1431.8L1612.3 1431.8L1614.8 1431.8L1617.3 1431.8L1619.8 1431.8L1622.3 1431.8L1624.8 1431.8L1627.3 1431.8L1629.9 1431.8L1632.4 1431.8L1634.9 1431.8L1637.4 1431.8L1639.9 1431.8L1642.4 1431.8L1644.9 1431.8L1647.4 1431.8L1649.9 1431.8L1652.4 1431.8L1654.9 1431.8L1657.4 1431.8L1659.9 1431.8L1662.4 1431.8L1664.9 1431.8L1667.4 1431.8L1669.9 1431.8L1672.4 1431.8L1674.9 1431.8L1677.4 1431.8L1679.9 1431.8L1682.5 1431.8L1685.0 1431.8L1687.5 1431.8L1690.0 1431.8L1692.5 1431.7L1695.0 1431.7L1697.5 1431.7L1700.0 1431.7L1702.5 1431.7L1705.0 1431.7L1707.5 1431.7L1710.0 1431.7L1712.5 1431.7L1715.0 1431.7L1717.5 1431.7L1720.0 1431.7L1722.5 1431.7L1725.0 1431.7L1727.5 1431.7L1730.0 1431.7L1732.5 1431.7L1735.1 1431.7L1737.6 1431.7L1740.1 1431.7L1742.6 1431.7L1745.1 1431.7L1747.6 1431.7L1750.1 1431.7L1752.6 1431.7L1755.1 1431.7L1757.6 1431.7L1760.1 1431.7L1762.6 1431.7L1765.1 1431.7L1767.6 1431.7L1770.1 1431.7L1772.6 1431.7L1775.1 1431.7L1777.6 1431.7L1780.1 1431.7L1782.6 1431.7L1785.1 1431.7L1787.6 1431.7L1790.2 1431.7L1792.7 1431.7L1795.2 1431.7L1797.7 1431.7L1800.2 1431.7L1802.7 1431.7L1805.2 1431.7L1807.7 1431.7L1810.2 1431.7L1812.7 1431.7L1815.2 1431.7L1817.7 1431.7L1820.2 1431.7L1822.7 1431.7L1825.2 1431.7L1827.7 1431.7L1830.2 1431.7L1832.7 1431.7L1835.2 1431.7L1837.7 1431.7L1840.2 1431.7L1842.8 1431.7L1845.3 1431.7L1847.8 1431.7L1850.3 1431.7L1852.8 1431.7L1855.3 1431.7L1857.8 1431.7L1860.3 1431.7L1862.8 1431.7L1865.3 1431.7L1867.8 1431.7L1870.3 1431.7L1872.8 1431.7L1875.3 1431.7L1877.8 1431.7L1880.3 1431.7L1882.8 1431.7L1885.3 1431.7L1887.8 1431.7L1890.3 1431.7L1892.8 1431.7L1895.3 1431.7L1897.8 1431.7L1900.4 1431.7L1902.9 1431.7L1905.4 1431.7L1907.9 1431.7L1910.4 1431.7L1912.9 1431.7L1915.4 1431.7L1917.9 1431.7L1920.4 1431.7L1922.9 1431.7L1925.4 1431.7L1927.9 1431.7L1930.4 1431.7L1932.9 1431.7L1935.4 1431.7L1937.9 1431.7L1940.4 1431.7L1942.9 1431.7L1945.4 1431.7L1947.9 1431.7L1950.4 1431.7L1952.9 1431.7L1955.4 1431.7L1957.9 1431.7L1960.5 1431.7L1963.0 1431.7L1965.5 1431.7L1968.0 1431.8L1970.5 1431.8L1973.0 1431.8L1975.5 1431.8L1978.0 1431.8L1980.5 1431.8L1983.0 1431.8L1985.5 1431.8L1988.0 1431.8" stroke="#FDC464" stroke-width="11" stroke-linejoin="round"/>
<path d="M147.0 1358.0L148.4 1355.9L149.8 1353.9L151.1 1351.8L152.5 1349.7L153.8 1347.6L155.1 1345.5L156.4 1343.3L157.7 1341.2L159.0 1339.1L160.2 1337.0L161.5 1334.8L162.7 1332.7L164.0 1330.5L165.2 1328.4L166.4 1326.2L167.6 1324.0L168.8 1321.8L170.0 1319.7L171.2 1317.5L172.3 1315.3L173.5 1313.1L174.6 1310.9L175.8 1308.7L176.9 1306.5L178.0 1304.3L179.1 1302.0L180.2 1299.8L181.3 1297.6L182.4 1295.3L183.4 1293.1L184.5 1290.9L185.6 1288.6L186.6 1286.4L187.6 1284.1L188.7 1281.8L189.7 1279.6L190.7 1277.3L191.7 1275.0L192.7 1272.7L193.7 1270.4L194.6 1268.2L195.6 1265.9L196.6 1263.6L197.5 1261.3L198.5 1259.0L199.4 1256.6L200.3 1254.3L201.2 1252.0L202.2 1249.7L203.1 1247.4L204.0 1245.0L204.8 1242.7L205.7 1240.4L206.6 1238.0L207.5 1235.7L208.3 1233.3L209.2 1231.0L210.0 1228.6L210.9 1226.3L211.7 1223.9L212.5 1221.6L213.4 1219.2L214.2 1216.8L215.0 1214.5L215.8 1212.1L216.6 1209.7L217.4 1207.3L218.2 1205.0L218.9 1202.6L219.7 1200.2L220.5 1197.8L221.3 1195.4L222.0 1193.0L222.8 1190.6L223.5 1188.2L224.2 1185.8L225.0 1183.4L225.7 1181.0L226.4 1178.6L227.2 1176.2L227.9 1173.8L228.6 1171.4L229.3 1168.9L230.0 1166.5L230.7 1164.1L231.4 1161.7L232.1 1159.3L232.8 1156.8L233.4 1154.4L234.1 1152.0L234.8 1149.6L235.5 1147.1L236.1 1144.7L236.8 1142.3L237.4 1139.8L238.1 1137.4L238.7 1135.0L239.4 1132.5L240.0 1130.1L240.7 1127.7L241.3 1125.2L241.9 1122.8L242.6 1120.3L243.2 1117.9L243.8 1115.4L244.4 1113.0L245.1 1110.6L245.7 1108.1L246.3 1105.7L246.9 1103.2L247.5 1100.8L248.1 1098.3L248.7 1095.9L249.3 1093.4L249.9 1091.0L250.5 1088.6L251.1 1086.1L251.7 1083.7L252.3 1081.2L252.9 1078.8L253.5 1076.3L254.1 1073.9L254.7 1071.4L255.3 1069.0L255.8 1066.6L256.4 1064.1L257.0 1061.7L257.6 1059.2L258.2 1056.8L258.8 1054.3L259.3 1051.9L259.9 1049.5L260.5 1047.0L261.1 1044.6L261.7 1042.2L262.2 1039.7L262.8 1037.3L263.4 1034.8L264.0 1032.4L264.5 1030.0L265.1 1027.5L265.7 1025.1L266.3 1022.7L266.8 1020.3L267.4 1017.8L268.0 1015.4L268.6 1013.0L269.1 1010.5L269.7 1008.1L270.3 1005.7L270.9 1003.3L271.4 1000.8L272.0 998.4L272.6 996.0L273.1 993.6L273.7 991.1L274.3 988.7L274.9 986.3L275.4 983.9L276.0 981.5L276.6 979.0L277.1 976.6L277.7 974.2L278.3 971.8L278.8 969.4L279.4 966.9L280.0 964.5L280.6 962.1L281.1 959.7L281.7 957.3L282.3 954.8L282.8 952.4L283.4 950.0L284.0 947.6L284.5 945.2L285.1 942.7L285.7 940.3L286.2 937.9L286.8 935.5L287.4 933.1L287.9 930.6L288.5 928.2L289.1 925.8L289.7 923.4L290.2 921.0L290.8 918.6L291.4 916.1L291.9 913.7L292.5 911.3L293.1 908.9L293.6 906.5L294.2 904.0L294.8 901.6L295.3 899.2L295.9 896.8L296.5 894.3L297.1 891.9L297.6 889.5L298.2 887.1L298.8 884.7L299.3 882.2L299.9 879.8L300.5 877.4L301.1 875.0L301.6 872.5L302.2 870.1L302.8 867.7L303.4 865.3L303.9 862.8L304.5 860.4L305.1 858.0L305.7 855.5L306.2 853.1L306.8 850.7L307.4 848.2L308.0 845.8L308.5 843.4L309.1 840.9L309.7 838.5L310.3 836.1L310.8 833.6L311.4 831.2L312.0 828.8L312.6 826.3L313.2 823.9L313.7 821.4L314.3 819.0L314.9 816.5L315.5 814.1L316.1 811.7L316.7 809.2L317.2 806.8L317.8 804.3L318.4 801.9L319.0 799.4L319.6 797.0L320.2 794.5L320.8 792.1L321.3 789.6L321.9 787.1L322.5 784.7L323.1 782.2L323.7 779.8L324.3 777.3L324.9 774.8L325.5 772.4L326.1 769.9L326.7 767.4L327.3 765.0L327.9 762.5L328.5 760.0L329.1 757.6L329.7 755.1L330.3 752.6L330.9 750.2L331.5 747.7L332.1 745.2L332.7 742.8L333.3 740.3L333.9 737.8L334.5 735.4L335.1 732.9L335.7 730.4L336.4 728.0L337.0 725.5L337.6 723.1L338.2 720.6L338.8 718.1L339.5 715.7L340.1 713.2L340.7 710.8L341.3 708.3L342.0 705.9L342.6 703.4L343.3 701.0L343.9 698.6L344.5 696.1L345.2 693.7L345.8 691.3L346.5 688.8L347.1 686.4L347.8 684.0L348.4 681.6L349.1 679.2L349.7 676.7L350.4 674.3L351.1 671.9L351.7 669.5L352.4 667.1L353.1 664.7L353.8 662.4L354.4 660.0L355.1 657.6L355.8 655.2L356.5 652.8L357.2 650.5L357.9 648.1L358.6 645.8L359.3 643.4L360.0 641.1L360.7 638.7L361.4 636.4L362.1 634.1L362.8 631.8L363.5 629.4L364.3 627.1L365.0 624.8L365.7 622.5L366.5 620.2L367.2 617.9L367.9 615.7L368.7 613.4L369.4 611.1L370.2 608.9L370.9 606.6L371.7 604.4L372.5 602.1L373.3 599.9L374.0 597.6L374.8 595.4L375.6 593.2L376.4 590.9L377.2 588.7L378.1 586.4L378.9 584.2L379.8 581.9L380.6 579.7L381.5 577.4L382.3 575.1L383.2 572.8L384.1 570.6L385.1 568.3L386.0 566.0L386.9 563.7L387.9 561.3L388.8 559.0L389.8 556.6L390.8 554.3L391.8 551.9L392.9 549.5L393.9 547.1L395.0 544.7L396.1 542.3L397.2 539.8L398.3 537.3L399.4 534.9L400.6 532.4L401.8 529.9L403.0 527.4L404.2 525.0L405.5 522.5L406.8 520.1L408.1 517.7L409.5 515.3L410.9 513.0L412.3 510.7L413.7 508.4L415.2 506.2L416.8 504.0L418.3 501.9L419.9 499.9L421.6 498.0L423.3 496.1L425.0 494.3L426.8 492.6L428.7 490.9L430.6 489.4L432.5 488.0L434.5 486.7L436.5 485.4L438.6 484.3L440.8 483.4L443.0 482.5L445.2 481.8L447.6 481.2L449.9 480.7L452.3 480.4L454.7 480.1L457.2 480.0L459.7 480.0L462.1 480.2L464.6 480.4L467.1 480.8L469.6 481.2L472.0 481.8L474.5 482.5L476.8 483.3L479.2 484.2L481.5 485.2L483.8 486.3L486.0 487.4L488.1 488.7L490.2 490.1L492.2 491.6L494.2 493.1L496.1 494.7L498.0 496.4L499.8 498.1L501.6 499.9L503.3 501.7L505.0 503.6L506.7 505.5L508.4 507.4L510.0 509.3L511.7 511.3L513.3 513.2L514.9 515.2L516.5 517.1L518.1 519.1L519.7 521.0L521.3 523.0L522.8 525.0L524.4 527.0L525.9 529.0L527.5 531.0L529.0 533.0L530.5 535.0L532.0 537.0L533.5 539.0L535.0 541.0L536.4 543.1L537.9 545.1L539.3 547.1L540.8 549.2L542.2 551.2L543.6 553.3L545.1 555.3L546.5 557.4L547.9 559.5L549.2 561.5L550.6 563.6L552.0 565.7L553.3 567.8L554.7 569.9L556.0 572.0L557.4 574.1L558.7 576.2L560.0 578.3L561.3 580.4L562.6 582.5L563.9 584.7L565.2 586.8L566.5 588.9L567.8 591.1L569.0 593.2L570.3 595.4L571.5 597.5L572.8 599.7L574.0 601.8L575.3 604.0L576.5 606.1L577.7 608.3L578.9 610.5L580.1 612.7L581.3 614.8L582.5 617.0L583.7 619.2L584.9 621.4L586.0 623.6L587.2 625.8L588.4 628.0L589.5 630.2L590.7 632.4L591.8 634.6L593.0 636.8L594.1 639.0L595.2 641.2L596.4 643.5L597.5 645.7L598.6 647.9L599.7 650.1L600.8 652.4L601.9 654.6L603.0 656.8L604.1 659.1L605.2 661.3L606.3 663.5L607.4 665.8L608.5 668.0L609.5 670.3L610.6 672.5L611.7 674.8L612.7 677.0L613.8 679.3L614.9 681.6L615.9 683.8L617.0 686.1L618.0 688.3L619.1 690.6L620.1 692.9L621.1 695.1L622.2 697.4L623.2 699.7L624.3 702.0L625.3 704.2L626.3 706.5L627.3 708.8L628.4 711.1L629.4 713.3L630.4 715.6L631.4 717.9L632.5 720.2L633.5 722.5L634.5 724.7L635.5 727.0L636.5 729.3L637.6 731.6L638.6 733.9L639.6 736.2L640.6 738.5L641.6 740.7L642.6 743.0L643.6 745.3L644.7 747.6L645.7 749.9L646.7 752.2L647.7 754.5L648.7 756.8L649.7 759.1L650.7 761.3L651.8 763.6L652.8 765.9L653.8 768.2L654.8 770.5L655.8 772.8L656.9 775.1L657.9 777.4L658.9 779.6L659.9 781.9L661.0 784.2L662.0 786.5L663.0 788.8L664.0 791.1L665.1 793.3L666.1 795.6L667.2 797.9L668.2 800.2L669.2 802.5L670.3 804.7L671.3 807.0L672.4 809.3L673.4 811.6L674.5 813.8L675.6 816.1L676.6 818.4L677.7 820.6L678.8 822.9L679.8 825.2L680.9 827.4L682.0 829.7L683.1 831.9L684.2 834.2L685.3 836.5L686.4 838.7L687.5 841.0L688.6 843.2L689.7 845.5L690.8 847.7L691.9 849.9L693.0 852.2L694.1 854.4L695.2 856.7L696.4 858.9L697.5 861.2L698.6 863.4L699.8 865.6L700.9 867.9L702.0 870.1L703.2 872.3L704.3 874.5L705.5 876.8L706.6 879.0L707.8 881.2L708.9 883.4L710.1 885.7L711.3 887.9L712.4 890.1L713.6 892.3L714.8 894.6L715.9 896.8L717.1 899.0L718.3 901.2L719.5 903.4L720.6 905.6L721.8 907.8L723.0 910.0L724.2 912.3L725.4 914.5L726.5 916.7L727.7 918.9L728.9 921.1L730.1 923.3L731.3 925.5L732.5 927.7L733.7 929.9L734.9 932.1L736.1 934.3L737.3 936.5L738.5 938.7L739.7 940.9L740.9 943.1L742.1 945.3L743.3 947.5L744.5 949.7L745.7 951.9L746.9 954.1L748.1 956.3L749.4 958.5L750.6 960.7L751.8 962.9L753.0 965.1L754.2 967.3L755.4 969.5L756.6 971.7L757.8 973.8L759.0 976.0L760.3 978.2L761.5 980.4L762.7 982.6L763.9 984.8L765.1 987.0L766.3 989.2L767.5 991.4L768.7 993.6L769.9 995.8L771.2 998.0L772.4 1000.2L773.6 1002.3L774.8 1004.5L776.0 1006.7L777.2 1008.9L778.4 1011.1L779.6 1013.3L780.8 1015.5L782.0 1017.7L783.2 1019.9L784.4 1022.1L785.6 1024.3L786.8 1026.5L788.0 1028.7L789.2 1030.8L790.4 1033.0L791.6 1035.2L792.8 1037.4L794.0 1039.6L795.2 1041.8L796.4 1044.0L797.6 1046.2L798.8 1048.4L799.9 1050.6L801.1 1052.8L802.3 1055.0L803.5 1057.2L804.7 1059.4L805.8 1061.6L807.0 1063.8L808.2 1066.0L809.4 1068.2L810.5 1070.4L811.7 1072.6L812.8 1074.8L814.0 1077.0L815.2 1079.2L816.3 1081.4L817.5 1083.7L818.6 1085.9L819.8 1088.1L820.9 1090.3L822.1 1092.5L823.2 1094.7L824.3 1096.9L825.5 1099.1L826.6 1101.4L827.7 1103.6L828.8 1105.8L830.0 1108.0L831.1 1110.2L832.2 1112.5L833.3 1114.7L834.4 1116.9L835.5 1119.1L836.6 1121.4L837.7 1123.6L838.8 1125.8L839.9 1128.0L841.0 1130.3L842.1 1132.5L843.1 1134.7L844.2 1137.0L845.3 1139.2L846.4 1141.5L847.4 1143.7L848.5 1145.9L849.6 1148.2L850.7 1150.4L851.7 1152.7L852.8 1154.9L853.8 1157.1L854.9 1159.4L856.0 1161.6L857.0 1163.9L858.1 1166.1L859.1 1168.4L860.2 1170.6L861.2 1172.8L862.3 1175.1L863.4 1177.3L864.4 1179.6L865.5 1181.8L866.5 1184.1L867.6 1186.3L868.7 1188.6L869.7 1190.8L870.8 1193.0L871.9 1195.3L872.9 1197.5L874.0 1199.8L875.1 1202.0L876.1 1204.3L877.2 1206.5L878.3 1208.7L879.4 1211.0L880.5 1213.2L881.5 1215.5L882.6 1217.7L883.7 1219.9L884.8 1222.2L885.9 1224.4L887.0 1226.6L888.1 1228.9L889.3 1231.1L890.4 1233.3L891.5 1235.5L892.6 1237.8L893.8 1240.0L894.9 1242.2L896.0 1244.4L897.2 1246.7L898.3 1248.9L899.5 1251.1L900.7 1253.3L901.8 1255.5L903.0 1257.7L904.2 1259.9L905.4 1262.1L906.6 1264.3L907.8 1266.6L909.0 1268.8L910.2 1271.0L911.4 1273.1L912.7 1275.3L913.9 1277.5L915.1 1279.7L916.4 1281.9L917.7 1284.1L918.9 1286.3L920.2 1288.4L921.5 1290.6L922.8 1292.8L924.1 1295.0L925.4 1297.1L926.8 1299.3L928.1 1301.5L929.4 1303.6L930.8 1305.8L932.1 1307.9L933.5 1310.1L934.9 1312.2L936.3 1314.4L937.7 1316.5L939.1 1318.6L940.5 1320.8L942.0 1322.9L943.4 1325.0L944.9 1327.1L946.4 1329.2L947.9 1331.3L949.4 1333.4L950.9 1335.5L952.4 1337.5L954.0 1339.6L955.5 1341.6L957.1 1343.6L958.7 1345.6L960.3 1347.6L962.0 1349.5L963.6 1351.5L965.3 1353.4L966.9 1355.3L968.6 1357.2L970.4 1359.0L972.1 1360.8L973.9 1362.6L975.6 1364.4L977.4 1366.2L979.3 1367.9L981.1 1369.6L983.0 1371.2L984.9 1372.9L986.8 1374.5L988.7 1376.0L990.7 1377.6L992.6 1379.1L994.6 1380.5L996.7 1381.9L998.7 1383.3L1000.8 1384.7L1002.9 1386.0L1005.0 1387.3L1007.2 1388.5L1009.4 1389.7L1011.6 1390.8L1013.8 1392.0L1016.0 1393.1L1018.3 1394.1L1020.5 1395.2L1022.8 1396.2L1025.1 1397.1L1027.5 1398.1L1029.8 1399.0L1032.1 1399.9L1034.5 1400.8L1036.8 1401.6L1039.2 1402.4L1041.6 1403.2L1044.0 1404.0L1046.4 1404.8L1048.8 1405.5L1051.2 1406.2L1053.6 1406.9L1056.0 1407.6L1058.4 1408.3L1060.8 1408.9L1063.2 1409.6L1065.6 1410.2L1068.1 1410.8L1070.5 1411.4L1072.9 1412.0L1075.4 1412.5L1077.8 1413.1L1080.2 1413.6L1082.7 1414.1L1085.1 1414.7L1087.5 1415.1L1090.0 1415.6L1092.4 1416.1L1094.9 1416.5L1097.3 1417.0L1099.8 1417.4L1102.3 1417.8L1104.7 1418.2L1107.2 1418.6L1109.7 1419.0L1112.1 1419.3L1114.6 1419.7L1117.1 1420.0L1119.5 1420.3L1122.0 1420.7L1124.5 1421.0L1127.0 1421.3L1129.4 1421.6L1131.9 1421.8L1134.4 1422.1L1136.9 1422.4L1139.4 1422.6L1141.9 1422.8L1144.4 1423.1L1146.9 1423.3L1149.3 1423.5L1151.8 1423.7L1154.3 1423.9L1156.8 1424.1L1159.3 1424.3L1161.8 1424.5L1164.3 1424.6L1166.8 1424.8L1169.3 1425.0L1171.8 1425.1L1174.3 1425.2L1176.8 1425.4L1179.3 1425.5L1181.9 1425.6L1184.4 1425.8L1186.9 1425.9L1189.4 1426.0L1191.9 1426.1L1194.4 1426.2L1196.9 1426.3L1199.4 1426.4L1201.9 1426.5L1204.4 1426.6L1206.9 1426.7L1209.4 1426.7L1212.0 1426.8L1214.5 1426.9L1217.0 1427.0L1219.5 1427.1L1222.0 1427.1L1224.5 1427.2L1227.0 1427.3L1229.5 1427.3L1232.0 1427.4L1234.5 1427.5L1237.1 1427.5L1239.6 1427.6L1242.1 1427.6L1244.6 1427.7L1247.1 1427.8L1249.6 1427.8L1252.1 1427.9L1254.6 1427.9L1257.1 1428.0L1259.6 1428.1L1262.1 1428.1L1264.6 1428.2L1267.1 1428.2L1269.7 1428.3L1272.2 1428.3L1274.7 1428.4L1277.2 1428.4L1279.7 1428.5L1282.2 1428.5L1284.7 1428.6L1287.2 1428.6L1289.7 1428.7L1292.2 1428.7L1294.7 1428.8L1297.2 1428.8L1299.7 1428.9L1302.2 1428.9L1304.7 1428.9L1307.2 1429.0L1309.7 1429.0L1312.2 1429.1L1314.7 1429.1L1317.2 1429.2L1319.7 1429.2L1322.2 1429.2L1324.7 1429.3L1327.2 1429.3L1329.7 1429.3L1332.2 1429.4L1334.7 1429.4L1337.2 1429.4L1339.7 1429.5L1342.3 1429.5L1344.8 1429.6L1347.3 1429.6L1349.8 1429.6L1352.3 1429.6L1354.8 1429.7L1357.3 1429.7L1359.8 1429.7L1362.3 1429.8L1364.8 1429.8L1367.3 1429.8L1369.8 1429.8L1372.3 1429.9L1374.8 1429.9L1377.3 1429.9L1379.8 1430.0L1382.3 1430.0L1384.8 1430.0L1387.3 1430.0L1389.8 1430.0L1392.3 1430.1L1394.8 1430.1L1397.3 1430.1L1399.8 1430.1L1402.3 1430.2L1404.8 1430.2L1407.3 1430.2L1409.8 1430.2L1412.3 1430.2L1414.8 1430.3L1417.3 1430.3L1419.8 1430.3L1422.3 1430.3L1424.8 1430.3L1427.3 1430.3L1429.8 1430.4L1432.3 1430.4L1434.8 1430.4L1437.3 1430.4L1439.8 1430.4L1442.3 1430.4L1444.8 1430.4L1447.3 1430.5L1449.8 1430.5L1452.3 1430.5L1454.8 1430.5L1457.3 1430.5L1459.8 1430.5L1462.3 1430.5L1464.8 1430.5L1467.3 1430.5L1469.8 1430.6L1472.3 1430.6L1474.8 1430.6L1477.3 1430.6L1479.8 1430.6L1482.3 1430.6L1484.8 1430.6L1487.3 1430.6L1489.8 1430.6L1492.3 1430.6L1494.8 1430.6L1497.3 1430.7L1499.8 1430.7L1502.3 1430.7L1504.8 1430.7L1507.3 1430.7L1509.8 1430.7L1512.3 1430.7L1514.8 1430.7L1517.3 1430.7L1519.8 1430.7L1522.3 1430.7L1524.8 1430.7L1527.3 1430.7L1529.8 1430.7L1532.3 1430.7L1534.8 1430.7L1537.3 1430.7L1539.9 1430.7L1542.4 1430.7L1544.9 1430.7L1547.4 1430.7L1549.9 1430.7L1552.4 1430.7L1554.9 1430.7L1557.4 1430.7L1559.9 1430.7L1562.4 1430.7L1564.9 1430.7L1567.4 1430.7L1569.9 1430.7L1572.4 1430.7L1574.9 1430.7L1577.4 1430.7L1579.9 1430.7L1582.4 1430.7L1584.9 1430.7L1587.4 1430.7L1589.9 1430.7L1592.4 1430.7L1594.9 1430.7L1597.4 1430.7L1599.9 1430.7L1602.4 1430.7L1604.9 1430.7L1607.4 1430.7L1610.0 1430.7L1612.5 1430.7L1615.0 1430.7L1617.5 1430.7L1620.0 1430.7L1622.5 1430.7L1625.0 1430.7L1627.5 1430.7L1630.0 1430.7L1632.5 1430.7L1635.0 1430.7L1637.5 1430.7L1640.0 1430.7L1642.5 1430.7L1645.0 1430.7L1647.5 1430.7L1650.0 1430.7L1652.5 1430.7L1655.0 1430.7L1657.5 1430.7L1660.0 1430.6L1662.5 1430.6L1665.0 1430.6L1667.5 1430.6L1670.1 1430.6L1672.6 1430.6L1675.1 1430.6L1677.6 1430.6L1680.1 1430.6L1682.6 1430.6L1685.1 1430.6L1687.6 1430.6L1690.1 1430.6L1692.6 1430.6L1695.1 1430.6L1697.6 1430.6L1700.1 1430.6L1702.6 1430.6L1705.1 1430.6L1707.6 1430.5L1710.1 1430.5L1712.6 1430.5L1715.1 1430.5L1717.6 1430.5L1720.1 1430.5L1722.6 1430.5L1725.2 1430.5L1727.7 1430.5L1730.2 1430.5L1732.7 1430.5L1735.2 1430.5L1737.7 1430.5L1740.2 1430.5L1742.7 1430.5L1745.2 1430.5L1747.7 1430.5L1750.2 1430.5L1752.7 1430.4L1755.2 1430.4L1757.7 1430.4L1760.2 1430.4L1762.7 1430.4L1765.2 1430.4L1767.7 1430.4L1770.2 1430.4L1772.7 1430.4L1775.2 1430.4L1777.7 1430.4L1780.2 1430.4L1782.8 1430.4L1785.3 1430.4L1787.8 1430.4L1790.3 1430.4L1792.8 1430.4L1795.3 1430.4L1797.8 1430.4L1800.3 1430.4L1802.8 1430.4L1805.3 1430.4L1807.8 1430.3L1810.3 1430.3L1812.8 1430.3L1815.3 1430.3L1817.8 1430.3L1820.3 1430.3L1822.8 1430.3L1825.3 1430.3L1827.8 1430.3L1830.3 1430.3L1832.8 1430.3L1835.3 1430.3L1837.8 1430.3L1840.3 1430.3L1842.8 1430.3L1845.4 1430.3L1847.9 1430.3L1850.4 1430.3L1852.9 1430.3L1855.4 1430.3L1857.9 1430.3L1860.4 1430.3L1862.9 1430.3L1865.4 1430.3L1867.9 1430.3L1870.4 1430.3L1872.9 1430.3L1875.4 1430.3L1877.9 1430.3L1880.4 1430.3L1882.9 1430.3L1885.4 1430.3L1887.9 1430.3L1890.4 1430.3L1892.9 1430.3L1895.4 1430.3L1897.9 1430.3L1900.4 1430.3L1902.9 1430.3L1905.4 1430.3L1907.9 1430.3L1910.4 1430.3L1912.9 1430.3L1915.4 1430.3L1917.9 1430.3L1920.4 1430.3L1922.9 1430.4L1925.4 1430.4L1927.9 1430.4L1930.5 1430.4L1933.0 1430.4L1935.5 1430.4L1938.0 1430.4L1940.5 1430.4L1943.0 1430.4L1945.5 1430.4L1948.0 1430.4L1950.5 1430.4L1953.0 1430.4L1955.5 1430.4L1958.0 1430.4L1960.5 1430.5L1963.0 1430.5L1965.5 1430.5L1968.0 1430.5L1970.5 1430.5L1973.0 1430.5L1975.5 1430.5L1978.0 1430.5L1980.5 1430.5L1983.0 1430.6L1985.5 1430.6L1988.0 1430.6" stroke="#FF6B6B" stroke-width="11" stroke-linejoin="round"/>
<path d="M147.0 1282.0L147.7 1279.6L148.4 1277.2L149.1 1274.8L149.8 1272.4L150.5 1270.0L151.1 1267.5L151.8 1265.1L152.5 1262.7L153.2 1260.3L153.8 1257.9L154.5 1255.5L155.2 1253.1L155.8 1250.6L156.5 1248.2L157.2 1245.8L157.8 1243.4L158.5 1241.0L159.1 1238.6L159.8 1236.1L160.4 1233.7L161.0 1231.3L161.7 1228.9L162.3 1226.5L162.9 1224.0L163.6 1221.6L164.2 1219.2L164.8 1216.8L165.4 1214.3L166.0 1211.9L166.6 1209.5L167.3 1207.1L167.9 1204.6L168.5 1202.2L169.1 1199.8L169.7 1197.3L170.3 1194.9L170.9 1192.5L171.5 1190.1L172.0 1187.6L172.6 1185.2L173.2 1182.8L173.8 1180.3L174.4 1177.9L174.9 1175.5L175.5 1173.0L176.1 1170.6L176.7 1168.2L177.2 1165.7L177.8 1163.3L178.3 1160.8L178.9 1158.4L179.5 1156.0L180.0 1153.5L180.6 1151.1L181.1 1148.7L181.7 1146.2L182.2 1143.8L182.8 1141.3L183.3 1138.9L183.8 1136.4L184.4 1134.0L184.9 1131.6L185.4 1129.1L186.0 1126.7L186.5 1124.2L187.0 1121.8L187.5 1119.3L188.1 1116.9L188.6 1114.5L189.1 1112.0L189.6 1109.6L190.1 1107.1L190.6 1104.7L191.1 1102.2L191.6 1099.8L192.1 1097.3L192.7 1094.9L193.2 1092.4L193.6 1090.0L194.1 1087.5L194.6 1085.1L195.1 1082.6L195.6 1080.2L196.1 1077.7L196.6 1075.3L197.1 1072.8L197.6 1070.4L198.1 1067.9L198.5 1065.4L199.0 1063.0L199.5 1060.5L200.0 1058.1L200.4 1055.6L200.9 1053.2L201.4 1050.7L201.9 1048.3L202.3 1045.8L202.8 1043.3L203.2 1040.9L203.7 1038.4L204.2 1036.0L204.6 1033.5L205.1 1031.1L205.5 1028.6L206.0 1026.1L206.5 1023.7L206.9 1021.2L207.4 1018.8L207.8 1016.3L208.3 1013.8L208.7 1011.4L209.1 1008.9L209.6 1006.5L210.0 1004.0L210.5 1001.5L210.9 999.1L211.4 996.6L211.8 994.1L212.2 991.7L212.7 989.2L213.1 986.7L213.5 984.3L214.0 981.8L214.4 979.4L214.8 976.9L215.2 974.4L215.7 972.0L216.1 969.5L216.5 967.0L216.9 964.6L217.4 962.1L217.8 959.6L218.2 957.2L218.6 954.7L219.1 952.2L219.5 949.8L219.9 947.3L220.3 944.8L220.7 942.4L221.1 939.9L221.6 937.4L222.0 935.0L222.4 932.5L222.8 930.0L223.2 927.6L223.6 925.1L224.0 922.6L224.4 920.1L224.8 917.7L225.2 915.2L225.6 912.7L226.1 910.3L226.5 907.8L226.9 905.3L227.3 902.9L227.7 900.4L228.1 897.9L228.5 895.5L228.9 893.0L229.3 890.5L229.7 888.0L230.1 885.6L230.5 883.1L230.9 880.6L231.3 878.2L231.7 875.7L232.1 873.2L232.5 870.7L232.9 868.3L233.3 865.8L233.7 863.3L234.1 860.9L234.5 858.4L234.9 855.9L235.2 853.4L235.6 851.0L236.0 848.5L236.4 846.0L236.8 843.6L237.2 841.1L237.6 838.6L238.0 836.1L238.4 833.7L238.8 831.2L239.2 828.7L239.6 826.2L240.0 823.8L240.4 821.3L240.8 818.8L241.2 816.4L241.6 813.9L242.0 811.4L242.3 808.9L242.7 806.5L243.1 804.0L243.5 801.5L243.9 799.1L244.3 796.6L244.7 794.1L245.1 791.6L245.5 789.2L245.9 786.7L246.3 784.2L246.7 781.7L247.1 779.3L247.5 776.8L247.9 774.3L248.3 771.9L248.7 769.4L249.1 766.9L249.5 764.4L249.9 762.0L250.3 759.5L250.7 757.0L251.1 754.6L251.5 752.1L251.9 749.6L252.3 747.2L252.7 744.7L253.1 742.2L253.5 739.7L253.9 737.3L254.3 734.8L254.7 732.3L255.1 729.9L255.5 727.4L255.9 724.9L256.3 722.4L256.7 720.0L257.1 717.5L257.5 715.0L257.9 712.6L258.3 710.1L258.7 707.6L259.1 705.2L259.6 702.7L260.0 700.2L260.4 697.8L260.8 695.3L261.2 692.8L261.6 690.3L262.0 687.9L262.4 685.4L262.8 682.9L263.3 680.5L263.7 678.0L264.1 675.5L264.5 673.1L264.9 670.6L265.3 668.1L265.8 665.7L266.2 663.2L266.6 660.7L267.0 658.3L267.4 655.8L267.9 653.3L268.3 650.9L268.7 648.4L269.1 645.9L269.6 643.5L270.0 641.0L270.4 638.5L270.8 636.1L271.3 633.6L271.7 631.1L272.1 628.7L272.5 626.2L273.0 623.7L273.4 621.3L273.8 618.8L274.3 616.4L274.7 613.9L275.1 611.4L275.6 609.0L276.0 606.5L276.4 604.0L276.9 601.6L277.3 599.1L277.8 596.7L278.2 594.2L278.6 591.7L279.1 589.3L279.5 586.8L280.0 584.3L280.4 581.9L280.9 579.4L281.3 577.0L281.8 574.5L282.2 572.0L282.7 569.6L283.1 567.1L283.6 564.7L284.0 562.2L284.5 559.7L284.9 557.3L285.4 554.8L285.8 552.4L286.3 549.9L286.7 547.4L287.2 545.0L287.7 542.5L288.1 540.1L288.6 537.6L289.1 535.2L289.5 532.7L290.0 530.2L290.5 527.8L290.9 525.3L291.4 522.9L291.9 520.4L292.3 518.0L292.8 515.5L293.3 513.1L293.8 510.6L294.2 508.1L294.7 505.7L295.2 503.2L295.7 500.8L296.2 498.3L296.6 495.9L297.1 493.4L297.6 491.0L298.1 488.5L298.6 486.1L299.1 483.6L299.6 481.2L300.1 478.7L300.5 476.3L301.0 473.8L301.5 471.4L302.0 468.9L302.5 466.5L303.0 464.0L303.5 461.6L304.0 459.1L304.5 456.7L305.0 454.2L305.5 451.8L306.1 449.3L306.6 446.9L307.1 444.4L307.6 442.0L308.1 439.5L308.6 437.1L309.1 434.6L309.6 432.2L310.2 429.8L310.7 427.3L311.2 424.9L311.7 422.4L312.2 420.0L312.8 417.5L313.3 415.1L313.8 412.6L314.4 410.2L314.9 407.8L315.4 405.3L316.0 402.9L316.5 400.4L317.0 398.0L317.6 395.6L318.1 393.1L318.7 390.7L319.2 388.2L319.7 385.8L320.3 383.4L320.8 380.9L321.4 378.5L321.9 376.0L322.5 373.6L323.1 371.2L323.6 368.7L324.2 366.3L324.7 363.9L325.3 361.4L325.9 359.0L326.4 356.6L327.0 354.1L327.6 351.7L328.1 349.3L328.7 346.8L329.3 344.4L329.8 342.0L330.4 339.5L331.0 337.1L331.6 334.7L332.2 332.2L332.8 329.8L333.3 327.4L333.9 324.9L334.5 322.5L335.1 320.1L335.7 317.7L336.3 315.2L336.9 312.8L337.5 310.4L338.1 308.0L338.7 305.5L339.4 303.1L340.0 300.7L340.6 298.3L341.3 295.9L341.9 293.5L342.6 291.1L343.3 288.7L344.0 286.3L344.7 283.9L345.4 281.5L346.1 279.1L346.8 276.7L347.6 274.3L348.3 272.0L349.1 269.6L349.9 267.2L350.7 264.9L351.5 262.5L352.3 260.2L353.2 257.9L354.1 255.5L355.0 253.2L355.9 250.9L356.8 248.6L357.7 246.3L358.7 244.0L359.7 241.7L360.7 239.4L361.7 237.1L362.8 234.9L363.9 232.6L365.0 230.4L366.1 228.1L367.2 225.9L368.4 223.7L369.6 221.5L370.9 219.3L372.1 217.1L373.4 214.9L374.7 212.7L376.0 210.6L377.4 208.4L378.8 206.3L380.3 204.1L381.7 202.0L383.2 199.9L384.7 197.8L386.3 195.7L387.9 193.7L389.5 191.6L391.2 189.6L392.9 187.6L394.6 185.5L396.4 183.6L398.2 181.6L400.0 179.7L401.8 177.8L403.7 176.0L405.6 174.2L407.6 172.4L409.6 170.7L411.6 169.1L413.6 167.5L415.6 166.0L417.7 164.6L419.8 163.2L421.9 161.9L424.1 160.7L426.3 159.6L428.5 158.6L430.7 157.6L432.9 156.8L435.2 156.0L437.4 155.4L439.7 154.9L442.1 154.5L444.4 154.2L446.7 154.0L449.1 153.9L451.5 154.0L453.9 154.2L456.3 154.5L458.7 154.9L461.1 155.5L463.4 156.1L465.8 156.9L468.2 157.7L470.5 158.6L472.8 159.7L475.1 160.8L477.4 162.0L479.6 163.3L481.8 164.7L483.9 166.1L486.0 167.6L488.1 169.2L490.0 170.8L492.0 172.6L493.8 174.3L495.6 176.1L497.4 178.0L499.1 180.0L500.8 181.9L502.4 183.9L504.0 186.0L505.5 188.1L507.0 190.2L508.5 192.4L509.9 194.6L511.3 196.8L512.7 199.1L514.0 201.4L515.3 203.6L516.6 205.9L517.8 208.3L519.0 210.6L520.2 212.9L521.4 215.3L522.6 217.6L523.8 219.9L524.9 222.3L526.0 224.6L527.2 226.9L528.3 229.2L529.4 231.5L530.5 233.8L531.6 236.0L532.7 238.3L533.8 240.5L534.9 242.8L535.9 245.0L537.0 247.3L538.0 249.5L539.1 251.7L540.1 253.9L541.2 256.2L542.2 258.4L543.2 260.6L544.2 262.8L545.2 265.0L546.2 267.2L547.2 269.4L548.2 271.6L549.2 273.8L550.1 276.0L551.1 278.2L552.1 280.4L553.0 282.6L554.0 284.9L554.9 287.1L555.9 289.3L556.8 291.5L557.7 293.8L558.6 296.0L559.5 298.2L560.5 300.5L561.4 302.7L562.3 305.0L563.2 307.3L564.0 309.6L564.9 311.9L565.8 314.1L566.7 316.4L567.6 318.8L568.4 321.1L569.3 323.4L570.2 325.7L571.0 328.0L571.9 330.4L572.7 332.7L573.6 335.0L574.4 337.4L575.3 339.7L576.1 342.1L576.9 344.5L577.8 346.8L578.6 349.2L579.4 351.6L580.2 353.9L581.1 356.3L581.9 358.7L582.7 361.1L583.5 363.5L584.4 365.8L585.2 368.2L586.0 370.6L586.8 373.0L587.6 375.4L588.4 377.8L589.3 380.2L590.1 382.6L590.9 385.0L591.7 387.4L592.5 389.8L593.3 392.2L594.1 394.6L595.0 397.0L595.8 399.4L596.6 401.8L597.4 404.2L598.2 406.6L599.1 409.0L599.9 411.4L600.7 413.8L601.5 416.2L602.4 418.6L603.2 421.0L604.0 423.3L604.9 425.7L605.7 428.1L606.5 430.5L607.4 432.9L608.2 435.2L609.1 437.6L609.9 440.0L610.8 442.3L611.6 444.7L612.5 447.1L613.4 449.4L614.2 451.8L615.1 454.1L615.9 456.5L616.8 458.8L617.7 461.2L618.6 463.5L619.4 465.9L620.3 468.2L621.2 470.5L622.1 472.9L622.9 475.2L623.8 477.6L624.7 479.9L625.6 482.2L626.5 484.6L627.4 486.9L628.3 489.2L629.1 491.5L630.0 493.9L630.9 496.2L631.8 498.5L632.7 500.8L633.6 503.1L634.5 505.5L635.4 507.8L636.3 510.1L637.2 512.4L638.1 514.7L639.0 517.0L639.9 519.4L640.8 521.7L641.8 524.0L642.7 526.3L643.6 528.6L644.5 530.9L645.4 533.2L646.3 535.5L647.2 537.8L648.1 540.1L649.0 542.4L650.0 544.7L650.9 547.0L651.8 549.3L652.7 551.6L653.6 553.9L654.5 556.3L655.5 558.6L656.4 560.9L657.3 563.2L658.2 565.5L659.1 567.8L660.1 570.1L661.0 572.4L661.9 574.7L662.8 577.0L663.7 579.3L664.7 581.6L665.6 583.9L666.5 586.2L667.4 588.5L668.3 590.8L669.2 593.1L670.2 595.4L671.1 597.7L672.0 600.0L672.9 602.3L673.8 604.6L674.8 606.9L675.7 609.3L676.6 611.6L677.5 613.9L678.4 616.2L679.3 618.5L680.2 620.8L681.2 623.1L682.1 625.4L683.0 627.8L683.9 630.1L684.8 632.4L685.7 634.7L686.6 637.0L687.5 639.4L688.4 641.7L689.3 644.0L690.2 646.3L691.1 648.7L692.0 651.0L692.9 653.3L693.8 655.7L694.7 658.0L695.6 660.3L696.5 662.7L697.4 665.0L698.3 667.3L699.2 669.7L700.1 672.0L701.0 674.4L701.9 676.7L702.8 679.1L703.7 681.4L704.6 683.8L705.4 686.1L706.3 688.5L707.2 690.8L708.1 693.2L709.0 695.6L709.9 697.9L710.7 700.3L711.6 702.6L712.5 705.0L713.4 707.3L714.3 709.7L715.2 712.1L716.0 714.4L716.9 716.8L717.8 719.2L718.7 721.5L719.6 723.9L720.5 726.3L721.3 728.6L722.2 731.0L723.1 733.4L724.0 735.7L724.9 738.1L725.8 740.5L726.6 742.8L727.5 745.2L728.4 747.6L729.3 749.9L730.2 752.3L731.1 754.7L732.0 757.0L732.9 759.4L733.8 761.8L734.7 764.1L735.6 766.5L736.5 768.9L737.4 771.2L738.3 773.6L739.2 776.0L740.1 778.3L741.0 780.7L741.9 783.0L742.8 785.4L743.7 787.8L744.6 790.1L745.5 792.5L746.4 794.8L747.3 797.2L748.2 799.6L749.2 801.9L750.1 804.3L751.0 806.6L751.9 809.0L752.9 811.3L753.8 813.7L754.7 816.0L755.7 818.4L756.6 820.7L757.5 823.1L758.5 825.4L759.4 827.7L760.4 830.1L761.3 832.4L762.3 834.8L763.2 837.1L764.2 839.4L765.1 841.8L766.1 844.1L767.1 846.4L768.0 848.7L769.0 851.1L770.0 853.4L771.0 855.7L772.0 858.0L772.9 860.3L773.9 862.6L774.9 865.0L775.9 867.3L776.9 869.6L777.9 871.9L778.9 874.2L779.9 876.5L781.0 878.8L782.0 881.1L783.0 883.4L784.0 885.7L785.1 887.9L786.1 890.2L787.1 892.5L788.2 894.8L789.2 897.1L790.3 899.3L791.3 901.6L792.4 903.9L793.4 906.1L794.5 908.4L795.6 910.6L796.7 912.9L797.7 915.1L798.8 917.4L799.9 919.6L801.0 921.9L802.1 924.1L803.2 926.4L804.3 928.6L805.4 930.8L806.5 933.1L807.7 935.3L808.8 937.5L809.9 939.7L811.0 941.9L812.2 944.2L813.3 946.4L814.5 948.6L815.6 950.8L816.8 953.0L817.9 955.2L819.1 957.4L820.2 959.6L821.4 961.8L822.6 964.0L823.7 966.1L824.9 968.3L826.1 970.5L827.3 972.7L828.5 974.9L829.7 977.1L830.9 979.2L832.1 981.4L833.3 983.6L834.5 985.7L835.7 987.9L836.9 990.1L838.1 992.2L839.4 994.4L840.6 996.5L841.8 998.7L843.1 1000.8L844.3 1003.0L845.5 1005.1L846.8 1007.3L848.0 1009.4L849.3 1011.5L850.6 1013.7L851.8 1015.8L853.1 1018.0L854.3 1020.1L855.6 1022.2L856.9 1024.3L858.2 1026.5L859.4 1028.6L860.7 1030.7L862.0 1032.8L863.3 1034.9L864.6 1037.1L865.9 1039.2L867.2 1041.3L868.5 1043.4L869.8 1045.5L871.1 1047.6L872.4 1049.7L873.7 1051.8L875.1 1053.9L876.4 1056.0L877.7 1058.1L879.0 1060.2L880.4 1062.3L881.7 1064.4L883.1 1066.5L884.4 1068.5L885.7 1070.6L887.1 1072.7L888.4 1074.8L889.8 1076.9L891.2 1078.9L892.5 1081.0L893.9 1083.1L895.2 1085.2L896.6 1087.2L898.0 1089.3L899.4 1091.4L900.7 1093.5L902.1 1095.5L903.5 1097.6L904.9 1099.6L906.3 1101.7L907.7 1103.8L909.1 1105.8L910.5 1107.9L911.9 1109.9L913.3 1112.0L914.7 1114.0L916.1 1116.1L917.5 1118.1L918.9 1120.2L920.3 1122.2L921.7 1124.3L923.2 1126.3L924.6 1128.4L926.0 1130.4L927.4 1132.5L928.9 1134.5L930.3 1136.5L931.7 1138.6L933.2 1140.6L934.6 1142.7L936.1 1144.7L937.5 1146.7L939.0 1148.8L940.4 1150.8L941.9 1152.8L943.3 1154.9L944.8 1156.9L946.2 1158.9L947.7 1160.9L949.2 1163.0L950.6 1165.0L952.1 1167.0L953.6 1169.0L955.0 1171.1L956.5 1173.1L958.0 1175.1L959.5 1177.1L961.0 1179.1L962.4 1181.2L963.9 1183.2L965.4 1185.2L966.9 1187.2L968.4 1189.2L969.9 1191.2L971.4 1193.3L972.9 1195.3L974.4 1197.3L975.9 1199.3L977.4 1201.3L978.9 1203.3L980.4 1205.3L981.9 1207.3L983.5 1209.4L985.0 1211.4L986.5 1213.4L988.0 1215.4L989.5 1217.4L991.0 1219.4L992.6 1221.4L994.1 1223.4L995.6 1225.4L997.2 1227.4L998.7 1229.4L1000.2 1231.4L1001.8 1233.4L1003.3 1235.4L1004.8 1237.4L1006.4 1239.5L1007.9 1241.5L1009.5 1243.5L1011.0 1245.5L1012.5 1247.5L1014.1 1249.5L1015.6 1251.5L1017.2 1253.5L1018.7 1255.5L1020.3 1257.5L1021.9 1259.5L1023.4 1261.5L1025.0 1263.5L1026.5 1265.5L1028.1 1267.5L1029.7 1269.5L1031.3 1271.4L1032.8 1273.4L1034.4 1275.4L1036.0 1277.4L1037.6 1279.4L1039.2 1281.3L1040.8 1283.3L1042.4 1285.3L1044.0 1287.2L1045.6 1289.2L1047.2 1291.1L1048.8 1293.1L1050.4 1295.0L1052.1 1296.9L1053.7 1298.9L1055.3 1300.8L1057.0 1302.7L1058.6 1304.6L1060.3 1306.5L1061.9 1308.4L1063.6 1310.3L1065.3 1312.2L1067.0 1314.0L1068.7 1315.9L1070.4 1317.7L1072.1 1319.6L1073.8 1321.4L1075.5 1323.2L1077.2 1325.0L1079.0 1326.8L1080.7 1328.6L1082.4 1330.4L1084.2 1332.2L1086.0 1334.0L1087.7 1335.7L1089.5 1337.4L1091.3 1339.2L1093.1 1340.9L1094.9 1342.6L1096.8 1344.3L1098.6 1346.0L1100.4 1347.6L1102.3 1349.3L1104.1 1350.9L1106.0 1352.5L1107.9 1354.2L1109.8 1355.8L1111.7 1357.3L1113.6 1358.9L1115.5 1360.5L1117.5 1362.0L1119.4 1363.5L1121.4 1365.0L1123.3 1366.5L1125.3 1368.0L1127.3 1369.4L1129.3 1370.9L1131.3 1372.3L1133.4 1373.7L1135.4 1375.1L1137.5 1376.5L1139.5 1377.8L1141.6 1379.2L1143.7 1380.5L1145.8 1381.8L1147.9 1383.1L1150.1 1384.3L1152.2 1385.6L1154.4 1386.8L1156.6 1388.0L1158.8 1389.2L1161.0 1390.3L1163.2 1391.5L1165.4 1392.6L1167.7 1393.7L1169.9 1394.8L1172.2 1395.8L1174.5 1396.9L1176.8 1397.9L1179.1 1398.9L1181.4 1399.9L1183.7 1400.9L1186.0 1401.9L1188.4 1402.9L1190.7 1403.8L1193.0 1404.7L1195.4 1405.7L1197.7 1406.6L1200.1 1407.5L1202.4 1408.4L1204.8 1409.2L1207.2 1410.1L1209.5 1410.9L1211.9 1411.7L1214.3 1412.5L1216.7 1413.3L1219.1 1414.0L1221.5 1414.8L1223.9 1415.5L1226.3 1416.2L1228.7 1416.9L1231.1 1417.5L1233.5 1418.2L1236.0 1418.8L1238.4 1419.4L1240.8 1420.0L1243.3 1420.5L1245.7 1421.1L1248.1 1421.6L1250.6 1422.1L1253.0 1422.6L1255.5 1423.1L1257.9 1423.5L1260.4 1424.0L1262.9 1424.4L1265.3 1424.8L1267.8 1425.2L1270.3 1425.6L1272.7 1426.0L1275.2 1426.3L1277.7 1426.7L1280.2 1427.0L1282.6 1427.3L1285.1 1427.6L1287.6 1427.9L1290.1 1428.2L1292.5 1428.4L1295.0 1428.7L1297.5 1428.9L1300.0 1429.2L1302.5 1429.4L1305.0 1429.6L1307.4 1429.8L1309.9 1430.0L1312.4 1430.1L1314.9 1430.3L1317.4 1430.5L1319.9 1430.6L1322.4 1430.7L1324.9 1430.9L1327.4 1431.0L1329.9 1431.1L1332.4 1431.2L1334.9 1431.3L1337.4 1431.4L1339.9 1431.5L1342.4 1431.6L1344.8 1431.6L1347.3 1431.7L1349.8 1431.7L1352.3 1431.8L1354.8 1431.8L1357.4 1431.9L1359.9 1431.9L1362.4 1432.0L1364.9 1432.0L1367.4 1432.0L1369.9 1432.0L1372.4 1432.0L1374.9 1432.0L1377.4 1432.1L1379.9 1432.1L1382.4 1432.1L1384.9 1432.1L1387.4 1432.1L1389.9 1432.1L1392.4 1432.1L1394.9 1432.1L1397.4 1432.1L1399.9 1432.0L1402.4 1432.0L1404.9 1432.0L1407.4 1432.0L1409.9 1432.0L1412.4 1432.0L1414.9 1432.0L1417.5 1432.0L1420.0 1432.0L1422.5 1432.0L1425.0 1432.0L1427.5 1432.0L1430.0 1432.0L1432.5 1432.0L1435.0 1432.0L1437.5 1432.0L1440.0 1432.0L1442.5 1432.0L1445.0 1432.0L1447.5 1432.0L1450.0 1432.0L1452.5 1432.0L1455.0 1432.0L1457.5 1431.9L1460.0 1431.9L1462.5 1431.9L1465.0 1431.9L1467.5 1431.9L1470.0 1431.9L1472.5 1431.9L1475.0 1431.9L1477.6 1431.9L1480.1 1431.9L1482.6 1431.9L1485.1 1431.9L1487.6 1431.9L1490.1 1431.9L1492.6 1431.9L1495.1 1431.9L1497.6 1431.9L1500.1 1431.9L1502.6 1431.9L1505.1 1431.9L1507.6 1431.9L1510.1 1431.9L1512.6 1431.9L1515.1 1431.9L1517.6 1431.9L1520.1 1431.9L1522.6 1431.9L1525.1 1431.9L1527.6 1431.9L1530.1 1431.9L1532.6 1431.9L1535.1 1431.9L1537.6 1431.9L1540.1 1431.9L1542.6 1431.9L1545.1 1431.9L1547.6 1431.9L1550.1 1431.9L1552.6 1431.9L1555.1 1431.9L1557.6 1431.9L1560.1 1431.9L1562.7 1431.9L1565.2 1431.9L1567.7 1431.9L1570.2 1431.9L1572.7 1431.9L1575.2 1431.9L1577.7 1431.9L1580.2 1431.9L1582.7 1431.9L1585.2 1431.9L1587.7 1431.9L1590.2 1431.9L1592.7 1431.9L1595.2 1431.9L1597.7 1431.9L1600.2 1431.9L1602.7 1431.9L1605.2 1431.9L1607.7 1431.9L1610.2 1431.9L1612.7 1431.9L1615.2 1431.9L1617.7 1431.9L1620.2 1431.9L1622.7 1431.9L1625.2 1431.9L1627.7 1431.9L1630.2 1431.9L1632.7 1431.9L1635.2 1431.9L1637.7 1431.9L1640.2 1431.9L1642.7 1431.9L1645.2 1431.9L1647.7 1431.9L1650.2 1431.9L1652.7 1431.9L1655.2 1431.9L1657.7 1431.9L1660.2 1431.9L1662.7 1432.0L1665.2 1432.0L1667.7 1432.0L1670.2 1432.0L1672.7 1432.0L1675.2 1432.0L1677.7 1432.0L1680.2 1432.0L1682.7 1432.0L1685.2 1432.0L1687.7 1432.0L1690.2 1432.0L1692.7 1432.0L1695.3 1432.0L1697.8 1432.0L1700.3 1432.0L1702.8 1432.0L1705.3 1432.0L1707.8 1432.0L1710.3 1432.0L1712.8 1432.0L1715.3 1432.0L1717.8 1432.0L1720.3 1432.0L1722.8 1432.0L1725.3 1432.0L1727.8 1432.0L1730.3 1432.0L1732.8 1432.0L1735.3 1432.0L1737.8 1432.0L1740.3 1432.0L1742.8 1432.0L1745.3 1432.0L1747.8 1432.0L1750.3 1432.0L1752.8 1432.0L1755.3 1432.0L1757.8 1432.0L1760.3 1432.0L1762.8 1432.0L1765.3 1432.0L1767.8 1432.0L1770.3 1432.0L1772.8 1432.0L1775.3 1432.0L1777.8 1432.0L1780.3 1432.0L1782.8 1432.0L1785.3 1432.0L1787.8 1432.0L1790.3 1432.1L1792.8 1432.1L1795.3 1432.1L1797.8 1432.1L1800.3 1432.1L1802.8 1432.1L1805.3 1432.1L1807.8 1432.1L1810.3 1432.1L1812.8 1432.1L1815.3 1432.1L1817.8 1432.1L1820.3 1432.1L1822.8 1432.1L1825.3 1432.1L1827.8 1432.1L1830.3 1432.1L1832.8 1432.1L1835.3 1432.1L1837.8 1432.1L1840.3 1432.1L1842.8 1432.1L1845.3 1432.1L1847.9 1432.1L1850.4 1432.1L1852.9 1432.1L1855.4 1432.1L1857.9 1432.1L1860.4 1432.1L1862.9 1432.1L1865.4 1432.1L1867.9 1432.1L1870.4 1432.1L1872.9 1432.1L1875.4 1432.1L1877.9 1432.1L1880.4 1432.1L1882.9 1432.1L1885.4 1432.1L1887.9 1432.1L1890.4 1432.1L1892.9 1432.1L1895.4 1432.1L1897.9 1432.1L1900.4 1432.1L1902.9 1432.1L1905.4 1432.1L1907.9 1432.1L1910.4 1432.1L1912.9 1432.1L1915.4 1432.1L1917.9 1432.1L1920.4 1432.1L1922.9 1432.1L1925.4 1432.1L1927.9 1432.0L1930.4 1432.0L1932.9 1432.0L1935.4 1432.0L1937.9 1432.0L1940.4 1432.0L1942.9 1432.0L1945.4 1432.0L1948.0 1432.0L1950.5 1432.0L1953.0 1432.0L1955.5 1432.0L1958.0 1432.0L1960.5 1432.0L1963.0 1432.0L1965.5 1432.0L1968.0 1432.0L1970.5 1432.0L1973.0 1432.0L1975.5 1432.0L1978.0 1432.0L1980.5 1432.0L1983.0 1432.0L1985.5 1432.0L1988.0 1432.0" stroke="#00BFFF" stroke-width="11" stroke-linejoin="round"/>
<path d="M147.0 1329.0L148.6 1327.1L150.1 1325.1L151.7 1323.2L153.2 1321.2L154.7 1319.2L156.2 1317.2L157.7 1315.2L159.2 1313.2L160.6 1311.2L162.1 1309.2L163.5 1307.1L164.9 1305.0L166.3 1303.0L167.6 1300.9L169.0 1298.8L170.3 1296.7L171.7 1294.6L173.0 1292.4L174.3 1290.3L175.6 1288.2L176.9 1286.0L178.1 1283.8L179.4 1281.7L180.6 1279.5L181.8 1277.3L183.0 1275.1L184.2 1272.9L185.4 1270.7L186.6 1268.5L187.8 1266.2L188.9 1264.0L190.1 1261.8L191.2 1259.5L192.4 1257.3L193.5 1255.0L194.6 1252.8L195.7 1250.5L196.8 1248.2L197.8 1245.9L198.9 1243.7L200.0 1241.4L201.0 1239.1L202.1 1236.8L203.1 1234.5L204.2 1232.2L205.2 1229.9L206.2 1227.6L207.2 1225.3L208.3 1223.0L209.3 1220.7L210.3 1218.4L211.2 1216.1L212.2 1213.8L213.2 1211.5L214.2 1209.2L215.2 1206.9L216.1 1204.6L217.1 1202.2L218.1 1199.9L219.0 1197.6L220.0 1195.3L220.9 1193.0L221.8 1190.7L222.8 1188.3L223.7 1186.0L224.6 1183.7L225.5 1181.4L226.4 1179.0L227.4 1176.7L228.3 1174.4L229.2 1172.1L230.0 1169.7L230.9 1167.4L231.8 1165.1L232.7 1162.7L233.6 1160.4L234.4 1158.1L235.3 1155.7L236.2 1153.4L237.0 1151.1L237.9 1148.7L238.7 1146.4L239.6 1144.0L240.4 1141.7L241.3 1139.3L242.1 1137.0L242.9 1134.7L243.7 1132.3L244.6 1130.0L245.4 1127.6L246.2 1125.3L247.0 1122.9L247.8 1120.5L248.6 1118.2L249.4 1115.8L250.2 1113.5L251.0 1111.1L251.8 1108.8L252.5 1106.4L253.3 1104.0L254.1 1101.7L254.9 1099.3L255.6 1097.0L256.4 1094.6L257.1 1092.2L257.9 1089.8L258.7 1087.5L259.4 1085.1L260.1 1082.7L260.9 1080.4L261.6 1078.0L262.4 1075.6L263.1 1073.2L263.8 1070.9L264.6 1068.5L265.3 1066.1L266.0 1063.7L266.7 1061.3L267.4 1058.9L268.1 1056.6L268.8 1054.2L269.5 1051.8L270.3 1049.4L271.0 1047.0L271.6 1044.6L272.3 1042.2L273.0 1039.8L273.7 1037.4L274.4 1035.0L275.1 1032.6L275.8 1030.2L276.4 1027.8L277.1 1025.4L277.8 1023.0L278.5 1020.6L279.1 1018.2L279.8 1015.8L280.5 1013.4L281.1 1011.0L281.8 1008.6L282.4 1006.2L283.1 1003.8L283.7 1001.3L284.4 998.9L285.0 996.5L285.7 994.1L286.3 991.7L287.0 989.2L287.6 986.8L288.2 984.4L288.9 982.0L289.5 979.5L290.1 977.1L290.8 974.7L291.4 972.3L292.0 969.8L292.7 967.4L293.3 965.0L293.9 962.5L294.5 960.1L295.1 957.6L295.8 955.2L296.4 952.8L297.0 950.3L297.6 947.9L298.2 945.4L298.8 943.0L299.4 940.5L300.0 938.1L300.7 935.6L301.3 933.2L301.9 930.7L302.5 928.3L303.1 925.8L303.7 923.4L304.3 920.9L304.9 918.5L305.5 916.0L306.1 913.5L306.7 911.1L307.3 908.6L307.9 906.2L308.5 903.7L309.1 901.3L309.7 898.8L310.3 896.3L310.9 893.9L311.4 891.4L312.0 889.0L312.6 886.5L313.2 884.0L313.8 881.6L314.4 879.1L315.0 876.7L315.6 874.2L316.2 871.7L316.8 869.3L317.4 866.8L318.0 864.4L318.6 861.9L319.2 859.4L319.8 857.0L320.4 854.5L321.0 852.1L321.6 849.6L322.2 847.2L322.8 844.7L323.5 842.3L324.1 839.8L324.7 837.4L325.3 834.9L325.9 832.5L326.5 830.0L327.1 827.6L327.7 825.1L328.3 822.7L329.0 820.2L329.6 817.8L330.2 815.4L330.8 812.9L331.5 810.5L332.1 808.1L332.7 805.6L333.3 803.2L334.0 800.8L334.6 798.3L335.3 795.9L335.9 793.5L336.5 791.1L337.2 788.6L337.8 786.2L338.5 783.8L339.1 781.4L339.8 779.0L340.4 776.6L341.1 774.2L341.8 771.8L342.4 769.4L343.1 767.0L343.8 764.6L344.4 762.2L345.1 759.8L345.8 757.4L346.5 755.0L347.2 752.6L347.9 750.3L348.5 747.9L349.2 745.5L349.9 743.1L350.6 740.8L351.3 738.4L352.1 736.0L352.8 733.7L353.5 731.3L354.2 729.0L354.9 726.6L355.7 724.3L356.4 722.0L357.1 719.6L357.9 717.3L358.6 715.0L359.4 712.6L360.1 710.3L360.9 708.0L361.6 705.7L362.4 703.4L363.2 701.1L363.9 698.8L364.7 696.5L365.5 694.2L366.3 691.9L367.1 689.6L367.9 687.3L368.7 685.0L369.5 682.8L370.3 680.5L371.1 678.2L371.9 676.0L372.8 673.7L373.6 671.4L374.4 669.2L375.3 666.9L376.1 664.7L377.0 662.4L377.8 660.1L378.7 657.9L379.5 655.6L380.4 653.3L381.3 651.0L382.2 648.7L383.0 646.4L383.9 644.1L384.8 641.7L385.7 639.4L386.6 637.0L387.5 634.6L388.4 632.2L389.3 629.8L390.2 627.4L391.2 624.9L392.1 622.5L393.0 620.0L393.9 617.5L394.9 614.9L395.8 612.4L396.7 609.8L397.7 607.2L398.7 604.6L399.6 602.0L400.7 599.5L401.7 596.9L402.7 594.4L403.8 591.9L405.0 589.4L406.1 586.9L407.3 584.6L408.6 582.2L409.8 579.9L411.2 577.7L412.6 575.6L414.0 573.5L415.5 571.6L417.1 569.7L418.7 567.9L420.5 566.2L422.2 564.6L424.1 563.1L426.0 561.8L428.0 560.6L430.1 559.5L432.3 558.6L434.6 557.8L436.9 557.2L439.3 556.7L441.7 556.4L444.2 556.2L446.6 556.2L449.1 556.4L451.5 556.8L453.9 557.4L456.2 558.2L458.5 559.1L460.8 560.2L463.0 561.4L465.1 562.8L467.2 564.2L469.3 565.7L471.3 567.3L473.2 568.8L475.1 570.5L477.0 572.2L478.8 573.9L480.5 575.7L482.3 577.5L484.0 579.3L485.6 581.2L487.2 583.1L488.8 585.1L490.3 587.0L491.8 589.1L493.3 591.1L494.8 593.2L496.2 595.2L497.6 597.3L499.0 599.5L500.3 601.6L501.6 603.8L503.0 606.0L504.2 608.2L505.5 610.4L506.8 612.6L508.0 614.8L509.2 617.0L510.4 619.2L511.6 621.5L512.8 623.7L514.0 625.9L515.1 628.2L516.3 630.4L517.4 632.7L518.5 634.9L519.7 637.2L520.8 639.5L521.8 641.8L522.9 644.0L524.0 646.3L525.0 648.6L526.1 650.9L527.1 653.2L528.1 655.5L529.2 657.8L530.2 660.1L531.2 662.4L532.1 664.7L533.1 667.0L534.1 669.3L535.0 671.6L536.0 674.0L536.9 676.3L537.9 678.6L538.8 681.0L539.7 683.3L540.6 685.6L541.5 688.0L542.4 690.3L543.3 692.7L544.2 695.0L545.1 697.4L545.9 699.7L546.8 702.1L547.6 704.4L548.5 706.8L549.3 709.2L550.2 711.5L551.0 713.9L551.8 716.3L552.7 718.6L553.5 721.0L554.3 723.4L555.1 725.7L555.9 728.1L556.7 730.5L557.5 732.9L558.3 735.2L559.1 737.6L559.9 740.0L560.7 742.4L561.5 744.8L562.2 747.1L563.0 749.5L563.8 751.9L564.6 754.3L565.4 756.7L566.1 759.0L566.9 761.4L567.7 763.8L568.4 766.2L569.2 768.6L570.0 771.0L570.7 773.3L571.5 775.7L572.3 778.1L573.0 780.5L573.8 782.9L574.6 785.3L575.3 787.6L576.1 790.0L576.9 792.4L577.7 794.8L578.4 797.1L579.2 799.5L580.0 801.9L580.8 804.3L581.6 806.6L582.3 809.0L583.1 811.4L583.9 813.7L584.7 816.1L585.5 818.5L586.3 820.8L587.1 823.2L587.9 825.5L588.8 827.9L589.6 830.2L590.4 832.6L591.2 834.9L592.1 837.3L592.9 839.6L593.7 842.0L594.6 844.3L595.4 846.6L596.3 849.0L597.2 851.3L598.0 853.6L598.9 856.0L599.8 858.3L600.6 860.6L601.5 862.9L602.4 865.2L603.3 867.6L604.2 869.9L605.1 872.2L606.0 874.5L606.9 876.8L607.8 879.1L608.8 881.4L609.7 883.7L610.6 886.0L611.5 888.3L612.5 890.6L613.4 892.9L614.4 895.2L615.3 897.5L616.3 899.8L617.2 902.1L618.2 904.4L619.2 906.6L620.1 908.9L621.1 911.2L622.1 913.5L623.1 915.8L624.0 918.0L625.0 920.3L626.0 922.6L627.0 924.8L628.0 927.1L629.0 929.4L630.1 931.6L631.1 933.9L632.1 936.2L633.1 938.4L634.1 940.7L635.2 942.9L636.2 945.2L637.3 947.5L638.3 949.7L639.3 952.0L640.4 954.2L641.4 956.5L642.5 958.7L643.6 960.9L644.6 963.2L645.7 965.4L646.8 967.7L647.9 969.9L648.9 972.2L650.0 974.4L651.1 976.6L652.2 978.9L653.3 981.1L654.4 983.3L655.5 985.6L656.6 987.8L657.7 990.0L658.8 992.2L660.0 994.5L661.1 996.7L662.2 998.9L663.3 1001.1L664.5 1003.4L665.6 1005.6L666.8 1007.8L667.9 1010.0L669.0 1012.2L670.2 1014.5L671.4 1016.7L672.5 1018.9L673.7 1021.1L674.8 1023.3L676.0 1025.5L677.2 1027.7L678.3 1029.9L679.5 1032.2L680.7 1034.4L681.9 1036.6L683.1 1038.8L684.3 1041.0L685.5 1043.2L686.7 1045.4L687.9 1047.6L689.1 1049.8L690.3 1052.0L691.5 1054.2L692.7 1056.4L693.9 1058.6L695.1 1060.8L696.4 1063.0L697.6 1065.2L698.8 1067.4L700.0 1069.6L701.3 1071.8L702.5 1074.0L703.8 1076.2L705.0 1078.4L706.3 1080.6L707.5 1082.8L708.8 1084.9L710.0 1087.1L711.3 1089.3L712.5 1091.5L713.8 1093.7L715.1 1095.9L716.4 1098.1L717.7 1100.2L718.9 1102.4L720.2 1104.6L721.5 1106.8L722.8 1108.9L724.1 1111.1L725.5 1113.3L726.8 1115.4L728.1 1117.6L729.4 1119.7L730.8 1121.9L732.1 1124.0L733.5 1126.1L734.9 1128.2L736.2 1130.4L737.6 1132.5L739.0 1134.6L740.4 1136.7L741.8 1138.8L743.2 1140.9L744.6 1143.0L746.0 1145.0L747.5 1147.1L748.9 1149.2L750.4 1151.2L751.8 1153.2L753.3 1155.3L754.8 1157.3L756.3 1159.3L757.8 1161.3L759.3 1163.3L760.8 1165.3L762.3 1167.3L763.9 1169.3L765.4 1171.2L767.0 1173.2L768.6 1175.1L770.2 1177.0L771.8 1179.0L773.4 1180.9L775.0 1182.8L776.6 1184.6L778.3 1186.5L779.9 1188.4L781.6 1190.2L783.3 1192.0L785.0 1193.9L786.7 1195.7L788.5 1197.5L790.2 1199.2L792.0 1201.0L793.7 1202.8L795.5 1204.5L797.3 1206.2L799.1 1207.9L801.0 1209.6L802.8 1211.3L804.7 1213.0L806.6 1214.6L808.4 1216.3L810.4 1217.9L812.3 1219.5L814.2 1221.1L816.2 1222.6L818.2 1224.2L820.1 1225.7L822.2 1227.2L824.2 1228.7L826.2 1230.2L828.3 1231.7L830.4 1233.1L832.5 1234.5L834.6 1235.9L836.7 1237.3L838.9 1238.7L841.0 1240.0L843.2 1241.3L845.4 1242.5L847.6 1243.8L849.8 1245.0L852.1 1246.1L854.3 1247.2L856.6 1248.3L858.9 1249.3L861.2 1250.2L863.5 1251.1L865.9 1252.0L868.2 1252.8L870.6 1253.5L872.9 1254.2L875.3 1254.8L877.7 1255.4L880.1 1255.8L882.5 1256.2L884.9 1256.5L887.4 1256.8L889.8 1257.0L892.3 1257.0L894.7 1257.0L897.2 1257.0L899.7 1256.8L902.2 1256.6L904.7 1256.3L907.1 1255.9L909.6 1255.4L912.1 1254.9L914.6 1254.2L917.0 1253.6L919.5 1252.8L921.9 1252.0L924.3 1251.2L926.7 1250.2L929.1 1249.2L931.4 1248.2L933.8 1247.1L936.1 1245.9L938.3 1244.7L940.6 1243.4L942.8 1242.1L945.0 1240.8L947.1 1239.4L949.2 1237.9L951.3 1236.4L953.3 1234.9L955.2 1233.3L957.2 1231.7L959.1 1230.1L960.9 1228.4L962.8 1226.7L964.6 1224.9L966.3 1223.2L968.0 1221.4L969.7 1219.5L971.4 1217.7L973.1 1215.8L974.7 1213.9L976.3 1212.0L977.8 1210.0L979.4 1208.1L980.9 1206.1L982.4 1204.1L983.9 1202.1L985.4 1200.1L986.8 1198.1L988.3 1196.0L989.7 1194.0L991.1 1191.9L992.5 1189.9L993.9 1187.8L995.3 1185.8L996.7 1183.7L998.1 1181.6L999.4 1179.6L1000.8 1177.5L1002.2 1175.5L1003.5 1173.5L1004.9 1171.4L1006.2 1169.4L1007.6 1167.4L1009.0 1165.4L1010.3 1163.4L1011.7 1161.4L1013.1 1159.4L1014.4 1157.4L1015.8 1155.4L1017.1 1153.4L1018.5 1151.5L1019.9 1149.5L1021.2 1147.5L1022.5 1145.5L1023.9 1143.5L1025.2 1141.5L1026.6 1139.5L1027.9 1137.5L1029.2 1135.4L1030.5 1133.4L1031.9 1131.4L1033.2 1129.3L1034.5 1127.2L1035.8 1125.2L1037.1 1123.1L1038.3 1120.9L1039.6 1118.8L1040.9 1116.7L1042.1 1114.5L1043.4 1112.3L1044.6 1110.1L1045.9 1107.9L1047.1 1105.6L1048.3 1103.3L1049.5 1101.0L1050.7 1098.7L1051.9 1096.3L1053.0 1094.0L1054.2 1091.5L1055.4 1089.1L1056.5 1086.7L1057.7 1084.2L1058.8 1081.8L1060.0 1079.3L1061.1 1076.8L1062.3 1074.3L1063.4 1071.9L1064.6 1069.4L1065.8 1066.9L1067.0 1064.5L1068.2 1062.0L1069.4 1059.6L1070.6 1057.2L1071.9 1054.8L1073.1 1052.5L1074.4 1050.2L1075.7 1047.9L1077.1 1045.6L1078.5 1043.4L1079.8 1041.2L1081.3 1039.1L1082.7 1037.0L1084.2 1035.0L1085.8 1033.0L1087.3 1031.1L1088.9 1029.3L1090.6 1027.5L1092.3 1025.7L1094.0 1024.1L1095.8 1022.5L1097.6 1021.0L1099.5 1019.5L1101.5 1018.2L1103.5 1016.9L1105.5 1015.8L1107.6 1014.7L1109.8 1013.7L1112.0 1012.8L1114.3 1012.0L1116.6 1011.3L1119.0 1010.7L1121.4 1010.3L1123.9 1010.0L1126.3 1009.8L1128.8 1009.7L1131.2 1009.8L1133.7 1010.0L1136.1 1010.4L1138.5 1011.0L1140.9 1011.8L1143.1 1012.7L1145.4 1013.8L1147.5 1015.1L1149.6 1016.6L1151.7 1018.1L1153.6 1019.8L1155.5 1021.6L1157.4 1023.4L1159.2 1025.3L1160.9 1027.2L1162.6 1029.1L1164.2 1031.1L1165.8 1033.1L1167.4 1035.2L1168.9 1037.3L1170.3 1039.4L1171.7 1041.6L1173.1 1043.7L1174.4 1045.9L1175.8 1048.2L1177.0 1050.4L1178.3 1052.6L1179.5 1054.9L1180.7 1057.2L1181.9 1059.5L1183.1 1061.8L1184.2 1064.0L1185.4 1066.3L1186.5 1068.6L1187.6 1070.9L1188.8 1073.2L1189.9 1075.5L1191.0 1077.8L1192.1 1080.0L1193.2 1082.3L1194.3 1084.5L1195.5 1086.7L1196.6 1089.0L1197.7 1091.1L1198.9 1093.3L1200.0 1095.5L1201.2 1097.7L1202.3 1099.8L1203.5 1102.0L1204.6 1104.1L1205.8 1106.3L1207.0 1108.4L1208.1 1110.5L1209.3 1112.7L1210.5 1114.8L1211.7 1116.9L1212.9 1119.1L1214.1 1121.2L1215.2 1123.3L1216.4 1125.5L1217.6 1127.6L1218.8 1129.8L1220.0 1131.9L1221.2 1134.1L1222.4 1136.2L1223.6 1138.4L1224.8 1140.6L1226.1 1142.7L1227.3 1144.9L1228.5 1147.0L1229.7 1149.2L1230.9 1151.4L1232.1 1153.5L1233.4 1155.7L1234.6 1157.9L1235.8 1160.1L1237.0 1162.2L1238.3 1164.4L1239.5 1166.6L1240.7 1168.8L1242.0 1170.9L1243.2 1173.1L1244.4 1175.3L1245.7 1177.5L1246.9 1179.7L1248.2 1181.8L1249.4 1184.0L1250.7 1186.2L1251.9 1188.4L1253.2 1190.6L1254.4 1192.8L1255.7 1194.9L1256.9 1197.1L1258.2 1199.3L1259.4 1201.5L1260.7 1203.7L1261.9 1205.9L1263.2 1208.1L1264.5 1210.2L1265.7 1212.4L1267.0 1214.6L1268.2 1216.8L1269.5 1219.0L1270.8 1221.2L1272.0 1223.4L1273.3 1225.5L1274.6 1227.7L1275.9 1229.9L1277.1 1232.1L1278.4 1234.2L1279.7 1236.4L1281.0 1238.6L1282.3 1240.7L1283.6 1242.9L1285.0 1245.0L1286.3 1247.1L1287.6 1249.3L1289.0 1251.4L1290.3 1253.5L1291.7 1255.6L1293.1 1257.7L1294.4 1259.8L1295.8 1261.9L1297.2 1263.9L1298.7 1266.0L1300.1 1268.1L1301.5 1270.1L1303.0 1272.1L1304.4 1274.1L1305.9 1276.1L1307.4 1278.1L1308.9 1280.1L1310.5 1282.1L1312.0 1284.0L1313.6 1285.9L1315.1 1287.9L1316.7 1289.8L1318.4 1291.6L1320.0 1293.5L1321.6 1295.4L1323.3 1297.2L1325.0 1299.0L1326.7 1300.8L1328.4 1302.6L1330.2 1304.4L1332.0 1306.1L1333.8 1307.8L1335.6 1309.5L1337.4 1311.2L1339.3 1312.9L1341.1 1314.5L1343.0 1316.1L1345.0 1317.8L1346.9 1319.3L1348.8 1320.9L1350.8 1322.5L1352.8 1324.0L1354.8 1325.5L1356.8 1327.0L1358.9 1328.5L1360.9 1329.9L1363.0 1331.4L1365.0 1332.8L1367.1 1334.2L1369.2 1335.6L1371.4 1336.9L1373.5 1338.3L1375.6 1339.6L1377.8 1340.9L1380.0 1342.2L1382.1 1343.5L1384.3 1344.7L1386.5 1346.0L1388.7 1347.2L1391.0 1348.4L1393.2 1349.6L1395.4 1350.7L1397.7 1351.9L1399.9 1353.0L1402.2 1354.1L1404.4 1355.2L1406.7 1356.3L1409.0 1357.3L1411.2 1358.4L1413.5 1359.4L1415.8 1360.4L1418.1 1361.4L1420.4 1362.4L1422.7 1363.3L1425.0 1364.3L1427.4 1365.2L1429.7 1366.1L1432.0 1367.0L1434.3 1367.9L1436.7 1368.8L1439.0 1369.6L1441.4 1370.4L1443.7 1371.3L1446.1 1372.1L1448.4 1372.9L1450.8 1373.6L1453.2 1374.4L1455.5 1375.2L1457.9 1375.9L1460.3 1376.6L1462.7 1377.3L1465.1 1378.0L1467.5 1378.7L1469.9 1379.4L1472.3 1380.0L1474.7 1380.7L1477.1 1381.3L1479.5 1381.9L1481.9 1382.5L1484.3 1383.1L1486.7 1383.7L1489.2 1384.3L1491.6 1384.9L1494.0 1385.4L1496.5 1386.0L1498.9 1386.5L1501.3 1387.0L1503.8 1387.5L1506.2 1388.1L1508.7 1388.5L1511.1 1389.0L1513.6 1389.5L1516.1 1390.0L1518.5 1390.4L1521.0 1390.9L1523.4 1391.3L1525.9 1391.7L1528.4 1392.2L1530.8 1392.6L1533.3 1393.0L1535.8 1393.4L1538.3 1393.8L1540.7 1394.2L1543.2 1394.5L1545.7 1394.9L1548.2 1395.3L1550.7 1395.6L1553.2 1396.0L1555.6 1396.3L1558.1 1396.7L1560.6 1397.0L1563.1 1397.3L1565.6 1397.7L1568.1 1398.0L1570.6 1398.3L1573.1 1398.6L1575.6 1398.9L1578.1 1399.2L1580.6 1399.5L1583.1 1399.8L1585.6 1400.1L1588.1 1400.3L1590.6 1400.6L1593.1 1400.9L1595.6 1401.2L1598.1 1401.4L1600.6 1401.7L1603.1 1401.9L1605.6 1402.2L1608.1 1402.5L1610.6 1402.7L1613.1 1403.0L1615.6 1403.2L1618.1 1403.5L1620.6 1403.7L1623.1 1403.9L1625.6 1404.2L1628.1 1404.4L1630.6 1404.7L1633.1 1404.9L1635.5 1405.1L1638.0 1405.3L1640.5 1405.6L1643.0 1405.8L1645.5 1406.0L1648.0 1406.2L1650.5 1406.4L1653.0 1406.7L1655.5 1406.9L1658.0 1407.1L1660.5 1407.3L1663.0 1407.5L1665.5 1407.7L1668.0 1407.9L1670.5 1408.1L1673.0 1408.3L1675.5 1408.5L1678.0 1408.7L1680.5 1408.9L1683.0 1409.1L1685.5 1409.3L1688.0 1409.4L1690.5 1409.6L1693.0 1409.8L1695.5 1410.0L1698.0 1410.2L1700.5 1410.3L1703.0 1410.5L1705.5 1410.7L1708.0 1410.9L1710.5 1411.0L1712.9 1411.2L1715.4 1411.4L1717.9 1411.5L1720.4 1411.7L1722.9 1411.8L1725.4 1412.0L1727.9 1412.1L1730.4 1412.3L1732.9 1412.4L1735.4 1412.6L1737.9 1412.7L1740.4 1412.9L1742.9 1413.0L1745.4 1413.2L1747.9 1413.3L1750.4 1413.5L1752.9 1413.6L1755.4 1413.7L1757.9 1413.9L1760.4 1414.0L1762.9 1414.1L1765.4 1414.3L1767.9 1414.4L1770.4 1414.5L1772.9 1414.6L1775.4 1414.8L1777.8 1414.9L1780.3 1415.0L1782.8 1415.1L1785.3 1415.2L1787.8 1415.4L1790.3 1415.5L1792.8 1415.6L1795.3 1415.7L1797.8 1415.8L1800.3 1415.9L1802.8 1416.0L1805.3 1416.1L1807.8 1416.2L1810.3 1416.3L1812.8 1416.4L1815.3 1416.5L1817.8 1416.6L1820.3 1416.7L1822.8 1416.8L1825.3 1416.9L1827.8 1417.0L1830.3 1417.1L1832.8 1417.2L1835.3 1417.3L1837.8 1417.4L1840.3 1417.5L1842.8 1417.6L1845.3 1417.6L1847.8 1417.7L1850.3 1417.8L1852.8 1417.9L1855.3 1418.0L1857.8 1418.1L1860.3 1418.1L1862.8 1418.2L1865.3 1418.3L1867.8 1418.4L1870.3 1418.4L1872.8 1418.5L1875.3 1418.6L1877.8 1418.7L1880.3 1418.7L1882.8 1418.8L1885.3 1418.9L1887.8 1418.9L1890.3 1419.0L1892.8 1419.1L1895.3 1419.1L1897.8 1419.2L1900.3 1419.3L1902.8 1419.3L1905.3 1419.4L1907.8 1419.4L1910.3 1419.5L1912.8 1419.6L1915.3 1419.6L1917.8 1419.7L1920.3 1419.7L1922.8 1419.8L1925.3 1419.8L1927.8 1419.9L1930.3 1420.0L1932.9 1420.0L1935.4 1420.1L1937.9 1420.1L1940.4 1420.2L1942.9 1420.2L1945.4 1420.3L1947.9 1420.3L1950.4 1420.4L1952.9 1420.4L1955.4 1420.5L1957.9 1420.5L1960.4 1420.5L1962.9 1420.6L1965.4 1420.6L1968.0 1420.7L1970.5 1420.7L1973.0 1420.8L1975.5 1420.8L1978.0 1420.9L1980.5 1420.9L1983.0 1420.9L1985.5 1421.0L1988.0 1421.0" stroke="#4D74FF" stroke-width="11" stroke-linejoin="round"/>
<path d="M467.5 611V720.5" stroke="#FDC464" stroke-width="6.5" stroke-dasharray="19.6 14.4"/>
<path d="M742.75 952V1074" stroke="#FDC464" stroke-width="6.5" stroke-dasharray="19.6 14.4"/>
<path d="M458.3 434V516" stroke="#FF0000" stroke-width="6.5" stroke-dasharray="19.6 14.4"/>
<path d="M439 85V241" stroke="#00BFFF" stroke-width="6.5" stroke-dasharray="19.6 14.4"/>
<path d="M445 520V602" stroke="#4D74FF" stroke-width="6.5" stroke-dasharray="19.6 14.4"/>
<path d="M1127.5 934V1089" stroke="#4D74FF" stroke-width="6.5" stroke-dasharray="19.6 14.4"/>
</g>
<text x="532.9" y="131.5" font-size="68.75" fill="#00BFFF" text-anchor="start" >98°C</text>
<text x="390.6" y="404.75" font-size="68.75" fill="#FF0000" text-anchor="start" letter-spacing="0.6">102°C</text>
<text x="565" y="575.2" font-size="68.75" fill="#4D74FF" text-anchor="start" >99°C</text>
<text x="396.3" y="838.75" font-size="68.75" fill="#FDC464" text-anchor="start" letter-spacing="0.6">104°C</text>
<text x="560.8" y="1172.25" font-size="68.75" fill="#FDC464" text-anchor="start" letter-spacing="0.3">160°C</text>
<text x="1038.3" y="1193.5" font-size="68.75" fill="#4D74FF" text-anchor="start" letter-spacing="-0.3">232°C</text>
<path d="M1279.8 188.0H1440" stroke="#FDC464" stroke-width="10.5" stroke-linecap="round" stroke-dasharray="0 21.83" fill="none" shape-rendering="crispEdges"/>
<text x="1469.2" y="213.6" font-size="77.6" fill="#FDC464" text-anchor="start" >CN</text>
<path d="M1279.8 284.6H1440" stroke="#FF3333" stroke-width="10.5" stroke-linecap="round" stroke-dasharray="0 21.83" fill="none" shape-rendering="crispEdges"/>
<text x="1469.2" y="310.2" font-size="77.6" fill="#FF3333" text-anchor="start" >CNK-0.25</text>
<path d="M1279.8 381.2H1440" stroke="#00BFFF" stroke-width="10.5" stroke-linecap="round" stroke-dasharray="0 21.83" fill="none" shape-rendering="crispEdges"/>
<text x="1469.2" y="406.8" font-size="77.6" fill="#00BFFF" text-anchor="start" >CNK-0.5</text>
<path d="M1279.8 477.8H1440" stroke="#4D74FF" stroke-width="10.5" stroke-linecap="round" stroke-dasharray="0 21.83" fill="none" shape-rendering="crispEdges"/>
<text x="1469.2" y="503.4" font-size="77.6" fill="#4D74FF" text-anchor="start" >CNK-0.75</text>
<path d="M1279.5 574.4H1451.5" stroke="#FDC464" stroke-width="11" stroke-linecap="round" fill="none" shape-rendering="crispEdges"/>
<text x="1471.6" y="600.0" font-size="77.6" fill="#FDC464" text-anchor="start" >Pd/CN</text>
<path d="M1279.5 671.0H1451.5" stroke="#FF6B6B" stroke-width="11" stroke-linecap="round" fill="none" shape-rendering="crispEdges"/>
<text x="1471.6" y="696.6" font-size="77.6" fill="#FF3333" text-anchor="start" >Pd/CNK-0.25</text>
<path d="M1279.5 767.6H1451.5" stroke="#00BFFF" stroke-width="11" stroke-linecap="round" fill="none" shape-rendering="crispEdges"/>
<text x="1471.6" y="793.2" font-size="77.6" fill="#00BFFF" text-anchor="start" >Pd/CNK-0.5</text>
<path d="M1279.5 864.2H1451.5" stroke="#4D74FF" stroke-width="11" stroke-linecap="round" fill="none" shape-rendering="crispEdges"/>
<text x="1471.6" y="889.8" font-size="77.6" fill="#4D74FF" text-anchor="start" >Pd/CNK-0.75</text>
<g fill="#000" shape-rendering="crispEdges">
<rect x="142" y="35" width="1851" height="11"/>
<rect x="142" y="1521" width="1852" height="11"/>
<rect x="142" y="35" width="10" height="1497"/>
<rect x="1983" y="35" width="10" height="1497"/>
<rect x="193.1" y="1531" width="10" height="23"/>
<rect x="321.0" y="1531" width="10" height="9"/>
<rect x="448.8" y="1531" width="10" height="23"/>
<rect x="576.7" y="1531" width="10" height="9"/>
<rect x="704.5" y="1531" width="10" height="23"/>
<rect x="832.4" y="1531" width="10" height="9"/>
<rect x="960.2" y="1531" width="10" height="23"/>
<rect x="1088.1" y="1531" width="10" height="9"/>
<rect x="1215.9" y="1531" width="10" height="23"/>
<rect x="1343.8" y="1531" width="10" height="9"/>
<rect x="1471.6" y="1531" width="10" height="23"/>
<rect x="1599.5" y="1531" width="10" height="9"/>
<rect x="1727.3" y="1531" width="10" height="23"/>
<rect x="1855.2" y="1531" width="10" height="9"/>
<rect x="1983.0" y="1531" width="10" height="23"/>
</g>
<text x="198.4" y="1635.5" font-size="77.5" fill="#000" text-anchor="middle" >50</text>
<text x="454.1" y="1635.5" font-size="77.5" fill="#000" text-anchor="middle" >100</text>
<text x="709.8" y="1635.5" font-size="77.5" fill="#000" text-anchor="middle" >150</text>
<text x="965.5" y="1635.5" font-size="77.5" fill="#000" text-anchor="middle" >200</text>
<text x="1221.2" y="1635.5" font-size="77.5" fill="#000" text-anchor="middle" >250</text>
<text x="1476.9" y="1635.5" font-size="77.5" fill="#000" text-anchor="middle" >300</text>
<text x="1732.6" y="1635.5" font-size="77.5" fill="#000" text-anchor="middle" >350</text>
<text x="1988.3" y="1635.5" font-size="77.5" fill="#000" text-anchor="middle" >400</text>
<text x="1067.3" y="1764.6" font-size="77.8" fill="#000" text-anchor="middle" >Temperature (°C)</text>
<text transform="translate(82 783.5) rotate(-90)" font-size="77.4" fill="#000" text-anchor="middle">Intensity (a.u.)</text>
</svg>
</body></html>
